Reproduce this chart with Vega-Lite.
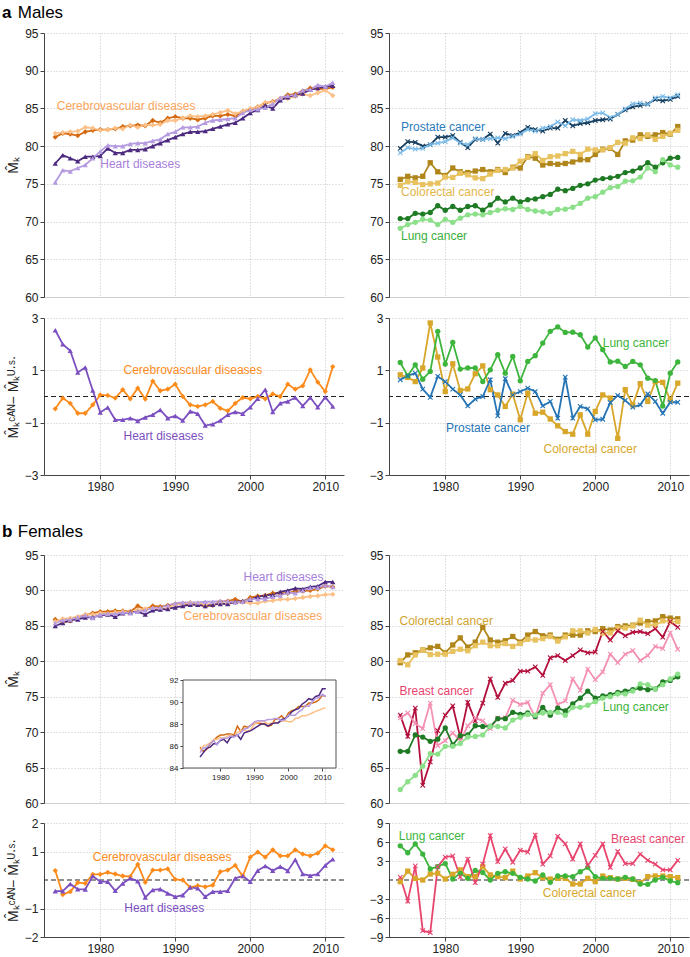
{
"$schema":"https://vega.github.io/schema/vega-lite/v6.json",
"padding":{"left":2,"top":4,"right":0,"bottom":0},
"background":"white",
"config":{
 "font":"Liberation Sans",
 "view":{"stroke":null},
 "axis":{"labelFont":"Liberation Sans","labelFontSize":12,"labelColor":"#222","labelOverlap":false,"tickCount":20,"domainColor":"#444","tickColor":"#444","tickSize":4,"gridColor":"#c4c4c4","gridDash":[1,2],"titleFont":"Liberation Sans","titleFontSize":14,"titleFontWeight":"normal","titleColor":"#222","titlePadding":4,"labelPadding":2},
 "text":{"font":"Liberation Sans"}
},
"datasets":{
"mTL":[
{"t":1974,"k":"cC","v":81.2},{"t":1975,"k":"cC","v":81.7},{"t":1976,"k":"cC","v":81.6},{"t":1977,"k":"cC","v":81.4},{"t":1978,"k":"cC","v":81.9},{"t":1979,"k":"cC","v":82.1},{"t":1980,"k":"cC","v":82.2},{"t":1981,"k":"cC","v":82.2},{"t":1982,"k":"cC","v":82.3},{"t":1983,"k":"cC","v":82.6},{"t":1984,"k":"cC","v":82.7},{"t":1985,"k":"cC","v":82.8},{"t":1986,"k":"cC","v":82.7},{"t":1987,"k":"cC","v":83.4},{"t":1988,"k":"cC","v":83.1},{"t":1989,"k":"cC","v":83.7},{"t":1990,"k":"cC","v":83.9},{"t":1991,"k":"cC","v":83.7},{"t":1992,"k":"cC","v":83.7},{"t":1993,"k":"cC","v":83.5},{"t":1994,"k":"cC","v":83.7},{"t":1995,"k":"cC","v":84.0},{"t":1996,"k":"cC","v":84.0},{"t":1997,"k":"cC","v":84.2},{"t":1998,"k":"cC","v":84.0},{"t":1999,"k":"cC","v":84.6},{"t":2000,"k":"cC","v":84.9},{"t":2001,"k":"cC","v":85.2},{"t":2002,"k":"cC","v":85.7},{"t":2003,"k":"cC","v":85.9},{"t":2004,"k":"cC","v":86.3},{"t":2005,"k":"cC","v":86.8},{"t":2006,"k":"cC","v":86.9},{"t":2007,"k":"cC","v":87.3},{"t":2008,"k":"cC","v":87.7},{"t":2009,"k":"cC","v":87.6},{"t":2010,"k":"cC","v":87.6},{"t":2011,"k":"cC","v":87.8},
{"t":1974,"k":"cU","v":81.7},{"t":1975,"k":"cU","v":81.8},{"t":1976,"k":"cU","v":81.9},{"t":1977,"k":"cU","v":82.0},{"t":1978,"k":"cU","v":82.5},{"t":1979,"k":"cU","v":82.4},{"t":1980,"k":"cU","v":82.1},{"t":1981,"k":"cU","v":82.2},{"t":1982,"k":"cU","v":82.4},{"t":1983,"k":"cU","v":82.3},{"t":1984,"k":"cU","v":82.8},{"t":1985,"k":"cU","v":82.5},{"t":1986,"k":"cU","v":82.8},{"t":1987,"k":"cU","v":82.8},{"t":1988,"k":"cU","v":82.9},{"t":1989,"k":"cU","v":83.4},{"t":1990,"k":"cU","v":83.4},{"t":1991,"k":"cU","v":83.7},{"t":1992,"k":"cU","v":84.0},{"t":1993,"k":"cU","v":83.9},{"t":1994,"k":"cU","v":84.0},{"t":1995,"k":"cU","v":84.2},{"t":1996,"k":"cU","v":84.45},{"t":1997,"k":"cU","v":84.75},{"t":1998,"k":"cU","v":84.3},{"t":1999,"k":"cU","v":84.6},{"t":2000,"k":"cU","v":85.0},{"t":2001,"k":"cU","v":85.2},{"t":2002,"k":"cU","v":85.8},{"t":2003,"k":"cU","v":85.8},{"t":2004,"k":"cU","v":86.3},{"t":2005,"k":"cU","v":86.3},{"t":2006,"k":"cU","v":86.6},{"t":2007,"k":"cU","v":86.9},{"t":2008,"k":"cU","v":86.7},{"t":2009,"k":"cU","v":87.05},{"t":2010,"k":"cU","v":87.4},{"t":2011,"k":"cU","v":86.7},
{"t":1974,"k":"hC","v":77.7},{"t":1975,"k":"hC","v":78.8},{"t":1976,"k":"hC","v":78.4},{"t":1977,"k":"hC","v":78.0},{"t":1978,"k":"hC","v":78.6},{"t":1979,"k":"hC","v":78.6},{"t":1980,"k":"hC","v":78.7},{"t":1981,"k":"hC","v":79.7},{"t":1982,"k":"hC","v":79.1},{"t":1983,"k":"hC","v":79.1},{"t":1984,"k":"hC","v":79.5},{"t":1985,"k":"hC","v":79.5},{"t":1986,"k":"hC","v":79.6},{"t":1987,"k":"hC","v":80.0},{"t":1988,"k":"hC","v":80.4},{"t":1989,"k":"hC","v":80.8},{"t":1990,"k":"hC","v":81.2},{"t":1991,"k":"hC","v":81.6},{"t":1992,"k":"hC","v":81.9},{"t":1993,"k":"hC","v":81.9},{"t":1994,"k":"hC","v":82.0},{"t":1995,"k":"hC","v":82.3},{"t":1996,"k":"hC","v":82.6},{"t":1997,"k":"hC","v":82.9},{"t":1998,"k":"hC","v":83.1},{"t":1999,"k":"hC","v":83.7},{"t":2000,"k":"hC","v":84.4},{"t":2001,"k":"hC","v":84.8},{"t":2002,"k":"hC","v":85.4},{"t":2003,"k":"hC","v":85.0},{"t":2004,"k":"hC","v":86.1},{"t":2005,"k":"hC","v":86.5},{"t":2006,"k":"hC","v":86.8},{"t":2007,"k":"hC","v":87.0},{"t":2008,"k":"hC","v":87.5},{"t":2009,"k":"hC","v":87.7},{"t":2010,"k":"hC","v":87.9},{"t":2011,"k":"hC","v":88.0},
{"t":1974,"k":"hU","v":75.2},{"t":1975,"k":"hU","v":76.8},{"t":1976,"k":"hU","v":76.65},{"t":1977,"k":"hU","v":77.1},{"t":1978,"k":"hU","v":77.5},{"t":1979,"k":"hU","v":78.4},{"t":1980,"k":"hU","v":79.3},{"t":1981,"k":"hU","v":80.1},{"t":1982,"k":"hU","v":80.0},{"t":1983,"k":"hU","v":80.0},{"t":1984,"k":"hU","v":80.3},{"t":1985,"k":"hU","v":80.4},{"t":1986,"k":"hU","v":80.4},{"t":1987,"k":"hU","v":80.7},{"t":1988,"k":"hU","v":80.9},{"t":1989,"k":"hU","v":81.6},{"t":1990,"k":"hU","v":81.9},{"t":1991,"k":"hU","v":82.5},{"t":1992,"k":"hU","v":82.5},{"t":1993,"k":"hU","v":82.6},{"t":1994,"k":"hU","v":83.1},{"t":1995,"k":"hU","v":83.4},{"t":1996,"k":"hU","v":83.5},{"t":1997,"k":"hU","v":83.6},{"t":1998,"k":"hU","v":83.7},{"t":1999,"k":"hU","v":84.4},{"t":2000,"k":"hU","v":84.8},{"t":2001,"k":"hU","v":84.9},{"t":2002,"k":"hU","v":85.1},{"t":2003,"k":"hU","v":85.6},{"t":2004,"k":"hU","v":86.4},{"t":2005,"k":"hU","v":86.7},{"t":2006,"k":"hU","v":86.8},{"t":2007,"k":"hU","v":87.4},{"t":2008,"k":"hU","v":87.5},{"t":2009,"k":"hU","v":88.1},{"t":2010,"k":"hU","v":87.9},{"t":2011,"k":"hU","v":88.4}
],
"mTR":[
{"t":1974,"k":"pC","v":79.7},{"t":1975,"k":"pC","v":80.6},{"t":1976,"k":"pC","v":80.5},{"t":1977,"k":"pC","v":80.0},{"t":1978,"k":"pC","v":80.2},{"t":1979,"k":"pC","v":81.2},{"t":1980,"k":"pC","v":81.2},{"t":1981,"k":"pC","v":81.4},{"t":1982,"k":"pC","v":80.5},{"t":1983,"k":"pC","v":79.8},{"t":1984,"k":"pC","v":80.9},{"t":1985,"k":"pC","v":80.9},{"t":1986,"k":"pC","v":81.6},{"t":1987,"k":"pC","v":80.4},{"t":1988,"k":"pC","v":81.7},{"t":1989,"k":"pC","v":81.4},{"t":1990,"k":"pC","v":81.8},{"t":1991,"k":"pC","v":82.5},{"t":1992,"k":"pC","v":82.2},{"t":1993,"k":"pC","v":82.0},{"t":1994,"k":"pC","v":82.4},{"t":1995,"k":"pC","v":82.4},{"t":1996,"k":"pC","v":83.4},{"t":1997,"k":"pC","v":82.7},{"t":1998,"k":"pC","v":83.0},{"t":1999,"k":"pC","v":83.1},{"t":2000,"k":"pC","v":83.4},{"t":2001,"k":"pC","v":83.5},{"t":2002,"k":"pC","v":83.6},{"t":2003,"k":"pC","v":84.2},{"t":2004,"k":"pC","v":84.8},{"t":2005,"k":"pC","v":85.2},{"t":2006,"k":"pC","v":85.4},{"t":2007,"k":"pC","v":85.6},{"t":2008,"k":"pC","v":86.2},{"t":2009,"k":"pC","v":86.0},{"t":2010,"k":"pC","v":86.2},{"t":2011,"k":"pC","v":86.6},
{"t":1974,"k":"pU","v":79.1},{"t":1975,"k":"pU","v":79.8},{"t":1976,"k":"pU","v":79.6},{"t":1977,"k":"pU","v":79.7},{"t":1978,"k":"pU","v":80.2},{"t":1979,"k":"pU","v":80.4},{"t":1980,"k":"pU","v":80.6},{"t":1981,"k":"pU","v":81.1},{"t":1982,"k":"pU","v":80.4},{"t":1983,"k":"pU","v":80.2},{"t":1984,"k":"pU","v":81.0},{"t":1985,"k":"pU","v":80.9},{"t":1986,"k":"pU","v":81.0},{"t":1987,"k":"pU","v":81.1},{"t":1988,"k":"pU","v":81.0},{"t":1989,"k":"pU","v":81.3},{"t":1990,"k":"pU","v":81.6},{"t":1991,"k":"pU","v":82.2},{"t":1992,"k":"pU","v":82.0},{"t":1993,"k":"pU","v":82.4},{"t":1994,"k":"pU","v":82.6},{"t":1995,"k":"pU","v":83.2},{"t":1996,"k":"pU","v":82.7},{"t":1997,"k":"pU","v":83.5},{"t":1998,"k":"pU","v":83.4},{"t":1999,"k":"pU","v":83.6},{"t":2000,"k":"pU","v":84.3},{"t":2001,"k":"pU","v":84.4},{"t":2002,"k":"pU","v":83.8},{"t":2003,"k":"pU","v":84.2},{"t":2004,"k":"pU","v":84.95},{"t":2005,"k":"pU","v":85.6},{"t":2006,"k":"pU","v":85.7},{"t":2007,"k":"pU","v":85.5},{"t":2008,"k":"pU","v":86.4},{"t":2009,"k":"pU","v":86.6},{"t":2010,"k":"pU","v":86.4},{"t":2011,"k":"pU","v":86.8},
{"t":1974,"k":"oC","v":75.6},{"t":1975,"k":"oC","v":76.0},{"t":1976,"k":"oC","v":75.8},{"t":1977,"k":"oC","v":76.0},{"t":1978,"k":"oC","v":77.8},{"t":1979,"k":"oC","v":76.6},{"t":1980,"k":"oC","v":76.1},{"t":1981,"k":"oC","v":77.1},{"t":1982,"k":"oC","v":76.6},{"t":1983,"k":"oC","v":76.5},{"t":1984,"k":"oC","v":76.7},{"t":1985,"k":"oC","v":76.9},{"t":1986,"k":"oC","v":76.6},{"t":1987,"k":"oC","v":76.9},{"t":1988,"k":"oC","v":76.5},{"t":1989,"k":"oC","v":77.2},{"t":1990,"k":"oC","v":77.1},{"t":1991,"k":"oC","v":78.6},{"t":1992,"k":"oC","v":78.4},{"t":1993,"k":"oC","v":77.5},{"t":1994,"k":"oC","v":77.7},{"t":1995,"k":"oC","v":77.6},{"t":1996,"k":"oC","v":77.7},{"t":1997,"k":"oC","v":77.9},{"t":1998,"k":"oC","v":78.2},{"t":1999,"k":"oC","v":78.2},{"t":2000,"k":"oC","v":78.9},{"t":2001,"k":"oC","v":79.6},{"t":2002,"k":"oC","v":79.7},{"t":2003,"k":"oC","v":78.9},{"t":2004,"k":"oC","v":80.7},{"t":2005,"k":"oC","v":80.8},{"t":2006,"k":"oC","v":81.5},{"t":2007,"k":"oC","v":81.3},{"t":2008,"k":"oC","v":81.5},{"t":2009,"k":"oC","v":81.8},{"t":2010,"k":"oC","v":81.6},{"t":2011,"k":"oC","v":82.6},
{"t":1974,"k":"oU","v":74.8},{"t":1975,"k":"oU","v":75.3},{"t":1976,"k":"oU","v":75.2},{"t":1977,"k":"oU","v":74.9},{"t":1978,"k":"oU","v":75.0},{"t":1979,"k":"oU","v":75.1},{"t":1980,"k":"oU","v":75.9},{"t":1981,"k":"oU","v":75.85},{"t":1982,"k":"oU","v":76.4},{"t":1983,"k":"oU","v":76.2},{"t":1984,"k":"oU","v":75.8},{"t":1985,"k":"oU","v":75.7},{"t":1986,"k":"oU","v":76.3},{"t":1987,"k":"oU","v":76.8},{"t":1988,"k":"oU","v":76.9},{"t":1989,"k":"oU","v":77.1},{"t":1990,"k":"oU","v":78.0},{"t":1991,"k":"oU","v":78.5},{"t":1992,"k":"oU","v":79.0},{"t":1993,"k":"oU","v":78.1},{"t":1994,"k":"oU","v":78.6},{"t":1995,"k":"oU","v":78.7},{"t":1996,"k":"oU","v":79.0},{"t":1997,"k":"oU","v":79.3},{"t":1998,"k":"oU","v":78.9},{"t":1999,"k":"oU","v":79.6},{"t":2000,"k":"oU","v":79.5},{"t":2001,"k":"oU","v":79.5},{"t":2002,"k":"oU","v":79.8},{"t":2003,"k":"oU","v":80.5},{"t":2004,"k":"oU","v":80.4},{"t":2005,"k":"oU","v":81.1},{"t":2006,"k":"oU","v":81.0},{"t":2007,"k":"oU","v":81.5},{"t":2008,"k":"oU","v":80.9},{"t":2009,"k":"oU","v":81.3},{"t":2010,"k":"oU","v":81.7},{"t":2011,"k":"oU","v":82.1},
{"t":1974,"k":"lC","v":70.4},{"t":1975,"k":"lC","v":70.4},{"t":1976,"k":"lC","v":71.1},{"t":1977,"k":"lC","v":71.0},{"t":1978,"k":"lC","v":71.2},{"t":1979,"k":"lC","v":72.1},{"t":1980,"k":"lC","v":71.5},{"t":1981,"k":"lC","v":72.0},{"t":1982,"k":"lC","v":71.5},{"t":1983,"k":"lC","v":72.0},{"t":1984,"k":"lC","v":72.1},{"t":1985,"k":"lC","v":71.5},{"t":1986,"k":"lC","v":72.2},{"t":1987,"k":"lC","v":73.1},{"t":1988,"k":"lC","v":72.6},{"t":1989,"k":"lC","v":73.1},{"t":1990,"k":"lC","v":72.6},{"t":1991,"k":"lC","v":72.9},{"t":1992,"k":"lC","v":73.0},{"t":1993,"k":"lC","v":73.3},{"t":1994,"k":"lC","v":73.6},{"t":1995,"k":"lC","v":74.3},{"t":1996,"k":"lC","v":74.1},{"t":1997,"k":"lC","v":74.4},{"t":1998,"k":"lC","v":74.8},{"t":1999,"k":"lC","v":75.0},{"t":2000,"k":"lC","v":75.5},{"t":2001,"k":"lC","v":75.7},{"t":2002,"k":"lC","v":75.8},{"t":2003,"k":"lC","v":76.0},{"t":2004,"k":"lC","v":76.5},{"t":2005,"k":"lC","v":76.7},{"t":2006,"k":"lC","v":77.1},{"t":2007,"k":"lC","v":77.8},{"t":2008,"k":"lC","v":77.2},{"t":2009,"k":"lC","v":77.8},{"t":2010,"k":"lC","v":78.4},{"t":2011,"k":"lC","v":78.5},
{"t":1974,"k":"lU","v":69.1},{"t":1975,"k":"lU","v":69.6},{"t":1976,"k":"lU","v":69.9},{"t":1977,"k":"lU","v":70.3},{"t":1978,"k":"lU","v":70.2},{"t":1979,"k":"lU","v":69.6},{"t":1980,"k":"lU","v":70.3},{"t":1981,"k":"lU","v":69.9},{"t":1982,"k":"lU","v":70.45},{"t":1983,"k":"lU","v":70.9},{"t":1984,"k":"lU","v":71.0},{"t":1985,"k":"lU","v":70.9},{"t":1986,"k":"lU","v":71.2},{"t":1987,"k":"lU","v":71.5},{"t":1988,"k":"lU","v":71.7},{"t":1989,"k":"lU","v":71.6},{"t":1990,"k":"lU","v":72.0},{"t":1991,"k":"lU","v":71.6},{"t":1992,"k":"lU","v":71.4},{"t":1993,"k":"lU","v":71.3},{"t":1994,"k":"lU","v":71.1},{"t":1995,"k":"lU","v":71.6},{"t":1996,"k":"lU","v":71.65},{"t":1997,"k":"lU","v":71.9},{"t":1998,"k":"lU","v":72.4},{"t":1999,"k":"lU","v":73.1},{"t":2000,"k":"lU","v":73.3},{"t":2001,"k":"lU","v":73.9},{"t":2002,"k":"lU","v":74.5},{"t":2003,"k":"lU","v":74.65},{"t":2004,"k":"lU","v":75.35},{"t":2005,"k":"lU","v":75.4},{"t":2006,"k":"lU","v":75.9},{"t":2007,"k":"lU","v":77.1},{"t":2008,"k":"lU","v":76.6},{"t":2009,"k":"lU","v":78.2},{"t":2010,"k":"lU","v":77.5},{"t":2011,"k":"lU","v":77.2}
],
"mBL":[
{"t":1974,"k":"cD","v":-0.47},{"t":1975,"k":"cD","v":-0.06},{"t":1976,"k":"cD","v":-0.26},{"t":1977,"k":"cD","v":-0.64},{"t":1978,"k":"cD","v":-0.64},{"t":1979,"k":"cD","v":-0.32},{"t":1980,"k":"cD","v":0.06},{"t":1981,"k":"cD","v":0.04},{"t":1982,"k":"cD","v":-0.06},{"t":1983,"k":"cD","v":0.26},{"t":1984,"k":"cD","v":-0.09},{"t":1985,"k":"cD","v":0.32},{"t":1986,"k":"cD","v":-0.10},{"t":1987,"k":"cD","v":0.59},{"t":1988,"k":"cD","v":0.22},{"t":1989,"k":"cD","v":0.28},{"t":1990,"k":"cD","v":0.47},{"t":1991,"k":"cD","v":0.0},{"t":1992,"k":"cD","v":-0.32},{"t":1993,"k":"cD","v":-0.38},{"t":1994,"k":"cD","v":-0.32},{"t":1995,"k":"cD","v":-0.19},{"t":1996,"k":"cD","v":-0.45},{"t":1997,"k":"cD","v":-0.55},{"t":1998,"k":"cD","v":-0.26},{"t":1999,"k":"cD","v":-0.04},{"t":2000,"k":"cD","v":-0.09},{"t":2001,"k":"cD","v":0.0},{"t":2002,"k":"cD","v":-0.09},{"t":2003,"k":"cD","v":0.10},{"t":2004,"k":"cD","v":0.0},{"t":2005,"k":"cD","v":0.47},{"t":2006,"k":"cD","v":0.28},{"t":2007,"k":"cD","v":0.41},{"t":2008,"k":"cD","v":1.02},{"t":2009,"k":"cD","v":0.55},{"t":2010,"k":"cD","v":0.19},{"t":2011,"k":"cD","v":1.14},
{"t":1974,"k":"hD","v":2.53},{"t":1975,"k":"hD","v":2.0},{"t":1976,"k":"hD","v":1.75},{"t":1977,"k":"hD","v":0.92},{"t":1978,"k":"hD","v":1.11},{"t":1979,"k":"hD","v":0.23},{"t":1980,"k":"hD","v":-0.61},{"t":1981,"k":"hD","v":-0.42},{"t":1982,"k":"hD","v":-0.89},{"t":1983,"k":"hD","v":-0.89},{"t":1984,"k":"hD","v":-0.83},{"t":1985,"k":"hD","v":-0.93},{"t":1986,"k":"hD","v":-0.80},{"t":1987,"k":"hD","v":-0.70},{"t":1988,"k":"hD","v":-0.51},{"t":1989,"k":"hD","v":-0.83},{"t":1990,"k":"hD","v":-0.74},{"t":1991,"k":"hD","v":-0.92},{"t":1992,"k":"hD","v":-0.57},{"t":1993,"k":"hD","v":-0.66},{"t":1994,"k":"hD","v":-1.11},{"t":1995,"k":"hD","v":-1.06},{"t":1996,"k":"hD","v":-0.92},{"t":1997,"k":"hD","v":-0.70},{"t":1998,"k":"hD","v":-0.59},{"t":1999,"k":"hD","v":-0.66},{"t":2000,"k":"hD","v":-0.41},{"t":2001,"k":"hD","v":-0.08},{"t":2002,"k":"hD","v":0.26},{"t":2003,"k":"hD","v":-0.59},{"t":2004,"k":"hD","v":-0.26},{"t":2005,"k":"hD","v":-0.19},{"t":2006,"k":"hD","v":-0.04},{"t":2007,"k":"hD","v":-0.36},{"t":2008,"k":"hD","v":-0.04},{"t":2009,"k":"hD","v":-0.41},{"t":2010,"k":"hD","v":-0.03},{"t":2011,"k":"hD","v":-0.38}
],
"mBR":[
{"t":1974,"k":"oD","v":0.83},{"t":1975,"k":"oD","v":0.73},{"t":1976,"k":"oD","v":0.57},{"t":1977,"k":"oD","v":1.09},{"t":1978,"k":"oD","v":2.81},{"t":1979,"k":"oD","v":1.51},{"t":1980,"k":"oD","v":0.19},{"t":1981,"k":"oD","v":1.25},{"t":1982,"k":"oD","v":0.23},{"t":1983,"k":"oD","v":0.29},{"t":1984,"k":"oD","v":0.87},{"t":1985,"k":"oD","v":1.17},{"t":1986,"k":"oD","v":0.26},{"t":1987,"k":"oD","v":0.06},{"t":1988,"k":"oD","v":-0.38},{"t":1989,"k":"oD","v":0.09},{"t":1990,"k":"oD","v":-0.89},{"t":1991,"k":"oD","v":0.13},{"t":1992,"k":"oD","v":-0.64},{"t":1993,"k":"oD","v":-0.60},{"t":1994,"k":"oD","v":-0.86},{"t":1995,"k":"oD","v":-1.12},{"t":1996,"k":"oD","v":-1.34},{"t":1997,"k":"oD","v":-1.44},{"t":1998,"k":"oD","v":-0.70},{"t":1999,"k":"oD","v":-1.44},{"t":2000,"k":"oD","v":-0.57},{"t":2001,"k":"oD","v":0.06},{"t":2002,"k":"oD","v":-0.06},{"t":2003,"k":"oD","v":-1.60},{"t":2004,"k":"oD","v":0.26},{"t":2005,"k":"oD","v":-0.32},{"t":2006,"k":"oD","v":0.49},{"t":2007,"k":"oD","v":-0.19},{"t":2008,"k":"oD","v":0.57},{"t":2009,"k":"oD","v":0.54},{"t":2010,"k":"oD","v":-0.13},{"t":2011,"k":"oD","v":0.51},
{"t":1974,"k":"lD","v":1.30},{"t":1975,"k":"lD","v":0.79},{"t":1976,"k":"lD","v":1.21},{"t":1977,"k":"lD","v":0.66},{"t":1978,"k":"lD","v":0.96},{"t":1979,"k":"lD","v":2.49},{"t":1980,"k":"lD","v":1.24},{"t":1981,"k":"lD","v":2.07},{"t":1982,"k":"lD","v":1.05},{"t":1983,"k":"lD","v":1.09},{"t":1984,"k":"lD","v":1.09},{"t":1985,"k":"lD","v":0.57},{"t":1986,"k":"lD","v":1.02},{"t":1987,"k":"lD","v":1.60},{"t":1988,"k":"lD","v":0.89},{"t":1989,"k":"lD","v":1.53},{"t":1990,"k":"lD","v":0.60},{"t":1991,"k":"lD","v":1.34},{"t":1992,"k":"lD","v":1.56},{"t":1993,"k":"lD","v":2.04},{"t":1994,"k":"lD","v":2.49},{"t":1995,"k":"lD","v":2.66},{"t":1996,"k":"lD","v":2.45},{"t":1997,"k":"lD","v":2.46},{"t":1998,"k":"lD","v":2.36},{"t":1999,"k":"lD","v":1.89},{"t":2000,"k":"lD","v":2.24},{"t":2001,"k":"lD","v":1.79},{"t":2002,"k":"lD","v":1.32},{"t":2003,"k":"lD","v":1.35},{"t":2004,"k":"lD","v":1.15},{"t":2005,"k":"lD","v":1.34},{"t":2006,"k":"lD","v":1.21},{"t":2007,"k":"lD","v":0.70},{"t":2008,"k":"lD","v":0.61},{"t":2009,"k":"lD","v":-0.36},{"t":2010,"k":"lD","v":0.89},{"t":2011,"k":"lD","v":1.32},
{"t":1974,"k":"pD","v":0.64},{"t":1975,"k":"pD","v":0.79},{"t":1976,"k":"pD","v":0.89},{"t":1977,"k":"pD","v":0.28},{"t":1978,"k":"pD","v":-0.03},{"t":1979,"k":"pD","v":0.77},{"t":1980,"k":"pD","v":0.57},{"t":1981,"k":"pD","v":0.28},{"t":1982,"k":"pD","v":0.06},{"t":1983,"k":"pD","v":-0.36},{"t":1984,"k":"pD","v":-0.10},{"t":1985,"k":"pD","v":0.0},{"t":1986,"k":"pD","v":0.64},{"t":1987,"k":"pD","v":-0.74},{"t":1988,"k":"pD","v":0.68},{"t":1989,"k":"pD","v":0.06},{"t":1990,"k":"pD","v":0.19},{"t":1991,"k":"pD","v":0.32},{"t":1992,"k":"pD","v":0.19},{"t":1993,"k":"pD","v":-0.36},{"t":1994,"k":"pD","v":-0.19},{"t":1995,"k":"pD","v":-0.83},{"t":1996,"k":"pD","v":0.74},{"t":1997,"k":"pD","v":-0.83},{"t":1998,"k":"pD","v":-0.38},{"t":1999,"k":"pD","v":-0.47},{"t":2000,"k":"pD","v":-0.89},{"t":2001,"k":"pD","v":-0.87},{"t":2002,"k":"pD","v":-0.23},{"t":2003,"k":"pD","v":0.04},{"t":2004,"k":"pD","v":-0.15},{"t":2005,"k":"pD","v":-0.41},{"t":2006,"k":"pD","v":-0.32},{"t":2007,"k":"pD","v":0.10},{"t":2008,"k":"pD","v":-0.19},{"t":2009,"k":"pD","v":-0.64},{"t":2010,"k":"pD","v":-0.22},{"t":2011,"k":"pD","v":-0.22}
],
"fTL":[
{"t":1974,"k":"cC","v":85.9},{"t":1975,"k":"cC","v":85.5},{"t":1976,"k":"cC","v":85.7},{"t":1977,"k":"cC","v":86.2},{"t":1978,"k":"cC","v":86.5},{"t":1979,"k":"cC","v":86.8},{"t":1980,"k":"cC","v":87.0},{"t":1981,"k":"cC","v":87.0},{"t":1982,"k":"cC","v":87.1},{"t":1983,"k":"cC","v":87.1},{"t":1984,"k":"cC","v":87.0},{"t":1985,"k":"cC","v":87.8},{"t":1986,"k":"cC","v":87.3},{"t":1987,"k":"cC","v":87.8},{"t":1988,"k":"cC","v":87.7},{"t":1989,"k":"cC","v":87.9},{"t":1990,"k":"cC","v":88.05},{"t":1991,"k":"cC","v":88.1},{"t":1992,"k":"cC","v":88.05},{"t":1993,"k":"cC","v":88.0},{"t":1994,"k":"cC","v":87.8},{"t":1995,"k":"cC","v":87.9},{"t":1996,"k":"cC","v":88.4},{"t":1997,"k":"cC","v":88.5},{"t":1998,"k":"cC","v":88.75},{"t":1999,"k":"cC","v":88.4},{"t":2000,"k":"cC","v":89.0},{"t":2001,"k":"cC","v":89.2},{"t":2002,"k":"cC","v":89.3},{"t":2003,"k":"cC","v":89.6},{"t":2004,"k":"cC","v":89.6},{"t":2005,"k":"cC","v":89.6},{"t":2006,"k":"cC","v":89.9},{"t":2007,"k":"cC","v":89.9},{"t":2008,"k":"cC","v":90.0},{"t":2009,"k":"cC","v":90.2},{"t":2010,"k":"cC","v":90.6},{"t":2011,"k":"cC","v":90.5},
{"t":1974,"k":"cU","v":85.6},{"t":1975,"k":"cU","v":86.0},{"t":1976,"k":"cU","v":86.1},{"t":1977,"k":"cU","v":86.3},{"t":1978,"k":"cU","v":86.6},{"t":1979,"k":"cU","v":86.6},{"t":1980,"k":"cU","v":86.8},{"t":1981,"k":"cU","v":86.7},{"t":1982,"k":"cU","v":86.9},{"t":1983,"k":"cU","v":87.0},{"t":1984,"k":"cU","v":86.9},{"t":1985,"k":"cU","v":87.25},{"t":1986,"k":"cU","v":87.4},{"t":1987,"k":"cU","v":87.45},{"t":1988,"k":"cU","v":87.35},{"t":1989,"k":"cU","v":87.5},{"t":1990,"k":"cU","v":88.0},{"t":1991,"k":"cU","v":88.1},{"t":1992,"k":"cU","v":88.3},{"t":1993,"k":"cU","v":88.2},{"t":1994,"k":"cU","v":88.0},{"t":1995,"k":"cU","v":88.1},{"t":1996,"k":"cU","v":88.1},{"t":1997,"k":"cU","v":88.15},{"t":1998,"k":"cU","v":88.25},{"t":1999,"k":"cU","v":88.3},{"t":2000,"k":"cU","v":88.2},{"t":2001,"k":"cU","v":88.2},{"t":2002,"k":"cU","v":88.5},{"t":2003,"k":"cU","v":88.55},{"t":2004,"k":"cU","v":88.75},{"t":2005,"k":"cU","v":88.75},{"t":2006,"k":"cU","v":88.85},{"t":2007,"k":"cU","v":89.0},{"t":2008,"k":"cU","v":89.15},{"t":2009,"k":"cU","v":89.25},{"t":2010,"k":"cU","v":89.4},{"t":2011,"k":"cU","v":89.45},
{"t":1974,"k":"hC","v":85.0},{"t":1975,"k":"hC","v":85.4},{"t":1976,"k":"hC","v":85.8},{"t":1977,"k":"hC","v":85.9},{"t":1978,"k":"hC","v":86.2},{"t":1979,"k":"hC","v":86.2},{"t":1980,"k":"hC","v":86.5},{"t":1981,"k":"hC","v":86.6},{"t":1982,"k":"hC","v":86.3},{"t":1983,"k":"hC","v":86.8},{"t":1984,"k":"hC","v":86.9},{"t":1985,"k":"hC","v":87.0},{"t":1986,"k":"hC","v":86.6},{"t":1987,"k":"hC","v":87.2},{"t":1988,"k":"hC","v":87.3},{"t":1989,"k":"hC","v":87.4},{"t":1990,"k":"hC","v":87.6},{"t":1991,"k":"hC","v":87.8},{"t":1992,"k":"hC","v":88.0},{"t":1993,"k":"hC","v":88.0},{"t":1994,"k":"hC","v":87.8},{"t":1995,"k":"hC","v":88.0},{"t":1996,"k":"hC","v":88.1},{"t":1997,"k":"hC","v":88.1},{"t":1998,"k":"hC","v":88.4},{"t":1999,"k":"hC","v":88.5},{"t":2000,"k":"hC","v":88.7},{"t":2001,"k":"hC","v":89.1},{"t":2002,"k":"hC","v":89.3},{"t":2003,"k":"hC","v":89.4},{"t":2004,"k":"hC","v":89.8},{"t":2005,"k":"hC","v":90.0},{"t":2006,"k":"hC","v":90.3},{"t":2007,"k":"hC","v":90.2},{"t":2008,"k":"hC","v":90.5},{"t":2009,"k":"hC","v":90.6},{"t":2010,"k":"hC","v":91.2},{"t":2011,"k":"hC","v":91.2},
{"t":1974,"k":"hU","v":85.4},{"t":1975,"k":"hU","v":85.8},{"t":1976,"k":"hU","v":85.9},{"t":1977,"k":"hU","v":86.2},{"t":1978,"k":"hU","v":86.5},{"t":1979,"k":"hU","v":86.1},{"t":1980,"k":"hU","v":86.6},{"t":1981,"k":"hU","v":86.7},{"t":1982,"k":"hU","v":86.7},{"t":1983,"k":"hU","v":86.9},{"t":1984,"k":"hU","v":86.8},{"t":1985,"k":"hU","v":87.0},{"t":1986,"k":"hU","v":87.2},{"t":1987,"k":"hU","v":87.55},{"t":1988,"k":"hU","v":87.6},{"t":1989,"k":"hU","v":87.9},{"t":1990,"k":"hU","v":88.2},{"t":1991,"k":"hU","v":88.3},{"t":1992,"k":"hU","v":88.3},{"t":1993,"k":"hU","v":88.3},{"t":1994,"k":"hU","v":88.4},{"t":1995,"k":"hU","v":88.4},{"t":1996,"k":"hU","v":88.5},{"t":1997,"k":"hU","v":88.5},{"t":1998,"k":"hU","v":88.3},{"t":1999,"k":"hU","v":88.4},{"t":2000,"k":"hU","v":88.8},{"t":2001,"k":"hU","v":88.8},{"t":2002,"k":"hU","v":88.8},{"t":2003,"k":"hU","v":89.1},{"t":2004,"k":"hU","v":89.3},{"t":2005,"k":"hU","v":89.7},{"t":2006,"k":"hU","v":89.6},{"t":2007,"k":"hU","v":90.0},{"t":2008,"k":"hU","v":90.35},{"t":2009,"k":"hU","v":90.4},{"t":2010,"k":"hU","v":90.7},{"t":2011,"k":"hU","v":90.5}
],
"fTR":[
{"t":1974,"k":"oC","v":79.8},{"t":1975,"k":"oC","v":80.9},{"t":1976,"k":"oC","v":81.2},{"t":1977,"k":"oC","v":81.6},{"t":1978,"k":"oC","v":81.9},{"t":1979,"k":"oC","v":82.1},{"t":1980,"k":"oC","v":81.2},{"t":1981,"k":"oC","v":82.3},{"t":1982,"k":"oC","v":83.3},{"t":1983,"k":"oC","v":82.0},{"t":1984,"k":"oC","v":82.7},{"t":1985,"k":"oC","v":84.8},{"t":1986,"k":"oC","v":83.0},{"t":1987,"k":"oC","v":82.7},{"t":1988,"k":"oC","v":82.9},{"t":1989,"k":"oC","v":83.5},{"t":1990,"k":"oC","v":82.7},{"t":1991,"k":"oC","v":83.7},{"t":1992,"k":"oC","v":84.2},{"t":1993,"k":"oC","v":83.6},{"t":1994,"k":"oC","v":83.7},{"t":1995,"k":"oC","v":83.1},{"t":1996,"k":"oC","v":83.7},{"t":1997,"k":"oC","v":83.7},{"t":1998,"k":"oC","v":83.7},{"t":1999,"k":"oC","v":84.3},{"t":2000,"k":"oC","v":84.2},{"t":2001,"k":"oC","v":84.6},{"t":2002,"k":"oC","v":84.4},{"t":2003,"k":"oC","v":84.9},{"t":2004,"k":"oC","v":85.0},{"t":2005,"k":"oC","v":85.1},{"t":2006,"k":"oC","v":85.4},{"t":2007,"k":"oC","v":85.6},{"t":2008,"k":"oC","v":85.7},{"t":2009,"k":"oC","v":86.3},{"t":2010,"k":"oC","v":86.1},{"t":2011,"k":"oC","v":86.0},
{"t":1974,"k":"oU","v":80.1},{"t":1975,"k":"oU","v":79.5},{"t":1976,"k":"oU","v":80.9},{"t":1977,"k":"oU","v":81.6},{"t":1978,"k":"oU","v":80.95},{"t":1979,"k":"oU","v":81.0},{"t":1980,"k":"oU","v":81.0},{"t":1981,"k":"oU","v":81.4},{"t":1982,"k":"oU","v":81.7},{"t":1983,"k":"oU","v":81.5},{"t":1984,"k":"oU","v":82.2},{"t":1985,"k":"oU","v":82.7},{"t":1986,"k":"oU","v":82.2},{"t":1987,"k":"oU","v":82.2},{"t":1988,"k":"oU","v":82.5},{"t":1989,"k":"oU","v":82.1},{"t":1990,"k":"oU","v":82.5},{"t":1991,"k":"oU","v":83.1},{"t":1992,"k":"oU","v":83.0},{"t":1993,"k":"oU","v":83.2},{"t":1994,"k":"oU","v":83.5},{"t":1995,"k":"oU","v":82.85},{"t":1996,"k":"oU","v":83.45},{"t":1997,"k":"oU","v":84.3},{"t":1998,"k":"oU","v":84.3},{"t":1999,"k":"oU","v":84.0},{"t":2000,"k":"oU","v":84.5},{"t":2001,"k":"oU","v":84.0},{"t":2002,"k":"oU","v":84.0},{"t":2003,"k":"oU","v":84.7},{"t":2004,"k":"oU","v":84.7},{"t":2005,"k":"oU","v":85.0},{"t":2006,"k":"oU","v":85.8},{"t":2007,"k":"oU","v":85.1},{"t":2008,"k":"oU","v":85.1},{"t":2009,"k":"oU","v":85.7},{"t":2010,"k":"oU","v":85.6},{"t":2011,"k":"oU","v":85.6},
{"t":1974,"k":"bC","v":72.4},{"t":1975,"k":"bC","v":69.4},{"t":1976,"k":"bC","v":73.4},{"t":1977,"k":"bC","v":62.5},{"t":1978,"k":"bC","v":65.8},{"t":1979,"k":"bC","v":70.2},{"t":1980,"k":"bC","v":72.4},{"t":1981,"k":"bC","v":73.7},{"t":1982,"k":"bC","v":69.3},{"t":1983,"k":"bC","v":74.2},{"t":1984,"k":"bC","v":71.6},{"t":1985,"k":"bC","v":74.1},{"t":1986,"k":"bC","v":77.5},{"t":1987,"k":"bC","v":74.9},{"t":1988,"k":"bC","v":76.9},{"t":1989,"k":"bC","v":77.3},{"t":1990,"k":"bC","v":78.6},{"t":1991,"k":"bC","v":78.6},{"t":1992,"k":"bC","v":79.2},{"t":1993,"k":"bC","v":78.0},{"t":1994,"k":"bC","v":80.5},{"t":1995,"k":"bC","v":80.8},{"t":1996,"k":"bC","v":80.1},{"t":1997,"k":"bC","v":80.8},{"t":1998,"k":"bC","v":81.6},{"t":1999,"k":"bC","v":81.2},{"t":2000,"k":"bC","v":81.3},{"t":2001,"k":"bC","v":84.2},{"t":2002,"k":"bC","v":83.0},{"t":2003,"k":"bC","v":84.3},{"t":2004,"k":"bC","v":83.6},{"t":2005,"k":"bC","v":84.1},{"t":2006,"k":"bC","v":84.2},{"t":2007,"k":"bC","v":83.9},{"t":2008,"k":"bC","v":84.6},{"t":2009,"k":"bC","v":83.4},{"t":2010,"k":"bC","v":85.6},{"t":2011,"k":"bC","v":84.8},
{"t":1974,"k":"bU","v":72.0},{"t":1975,"k":"bU","v":72.7},{"t":1976,"k":"bU","v":71.2},{"t":1977,"k":"bU","v":70.5},{"t":1978,"k":"bU","v":74.1},{"t":1979,"k":"bU","v":68.1},{"t":1980,"k":"bU","v":68.8},{"t":1981,"k":"bU","v":69.9},{"t":1982,"k":"bU","v":68.8},{"t":1983,"k":"bU","v":70.9},{"t":1984,"k":"bU","v":72.0},{"t":1985,"k":"bU","v":71.6},{"t":1986,"k":"bU","v":70.5},{"t":1987,"k":"bU","v":72.0},{"t":1988,"k":"bU","v":72.0},{"t":1989,"k":"bU","v":74.5},{"t":1990,"k":"bU","v":73.9},{"t":1991,"k":"bU","v":74.2},{"t":1992,"k":"bU","v":72.1},{"t":1993,"k":"bU","v":75.5},{"t":1994,"k":"bU","v":76.7},{"t":1995,"k":"bU","v":73.9},{"t":1996,"k":"bU","v":74.4},{"t":1997,"k":"bU","v":77.5},{"t":1998,"k":"bU","v":75.9},{"t":1999,"k":"bU","v":78.9},{"t":2000,"k":"bU","v":77.4},{"t":2001,"k":"bU","v":78.5},{"t":2002,"k":"bU","v":81.0},{"t":2003,"k":"bU","v":79.8},{"t":2004,"k":"bU","v":81.0},{"t":2005,"k":"bU","v":81.5},{"t":2006,"k":"bU","v":80.1},{"t":2007,"k":"bU","v":80.8},{"t":2008,"k":"bU","v":82.1},{"t":2009,"k":"bU","v":81.8},{"t":2010,"k":"bU","v":84.0},{"t":2011,"k":"bU","v":81.7},
{"t":1974,"k":"lC","v":67.3},{"t":1975,"k":"lC","v":67.3},{"t":1976,"k":"lC","v":69.6},{"t":1977,"k":"lC","v":69.3},{"t":1978,"k":"lC","v":68.7},{"t":1979,"k":"lC","v":69.0},{"t":1980,"k":"lC","v":70.6},{"t":1981,"k":"lC","v":68.2},{"t":1982,"k":"lC","v":69.5},{"t":1983,"k":"lC","v":69.6},{"t":1984,"k":"lC","v":70.9},{"t":1985,"k":"lC","v":70.8},{"t":1986,"k":"lC","v":70.8},{"t":1987,"k":"lC","v":71.9},{"t":1988,"k":"lC","v":71.9},{"t":1989,"k":"lC","v":72.8},{"t":1990,"k":"lC","v":72.5},{"t":1991,"k":"lC","v":72.7},{"t":1992,"k":"lC","v":72.2},{"t":1993,"k":"lC","v":73.5},{"t":1994,"k":"lC","v":72.4},{"t":1995,"k":"lC","v":73.4},{"t":1996,"k":"lC","v":73.0},{"t":1997,"k":"lC","v":74.0},{"t":1998,"k":"lC","v":74.8},{"t":1999,"k":"lC","v":75.8},{"t":2000,"k":"lC","v":74.8},{"t":2001,"k":"lC","v":75.1},{"t":2002,"k":"lC","v":75.3},{"t":2003,"k":"lC","v":75.6},{"t":2004,"k":"lC","v":75.8},{"t":2005,"k":"lC","v":76.0},{"t":2006,"k":"lC","v":76.2},{"t":2007,"k":"lC","v":76.0},{"t":2008,"k":"lC","v":76.1},{"t":2009,"k":"lC","v":77.1},{"t":2010,"k":"lC","v":77.3},{"t":2011,"k":"lC","v":77.8},
{"t":1974,"k":"lU","v":61.9},{"t":1975,"k":"lU","v":63.0},{"t":1976,"k":"lU","v":63.9},{"t":1977,"k":"lU","v":65.2},{"t":1978,"k":"lU","v":66.95},{"t":1979,"k":"lU","v":66.9},{"t":1980,"k":"lU","v":68.0},{"t":1981,"k":"lU","v":68.0},{"t":1982,"k":"lU","v":68.4},{"t":1983,"k":"lU","v":69.3},{"t":1984,"k":"lU","v":69.4},{"t":1985,"k":"lU","v":69.6},{"t":1986,"k":"lU","v":70.8},{"t":1987,"k":"lU","v":70.8},{"t":1988,"k":"lU","v":70.6},{"t":1989,"k":"lU","v":71.7},{"t":1990,"k":"lU","v":72.1},{"t":1991,"k":"lU","v":72.5},{"t":1992,"k":"lU","v":72.4},{"t":1993,"k":"lU","v":72.7},{"t":1994,"k":"lU","v":72.8},{"t":1995,"k":"lU","v":72.8},{"t":1996,"k":"lU","v":72.4},{"t":1997,"k":"lU","v":73.5},{"t":1998,"k":"lU","v":73.5},{"t":1999,"k":"lU","v":73.8},{"t":2000,"k":"lU","v":74.3},{"t":2001,"k":"lU","v":74.8},{"t":2002,"k":"lU","v":75.0},{"t":2003,"k":"lU","v":75.4},{"t":2004,"k":"lU","v":75.4},{"t":2005,"k":"lU","v":75.8},{"t":2006,"k":"lU","v":76.8},{"t":2007,"k":"lU","v":76.7},{"t":2008,"k":"lU","v":76.1},{"t":2009,"k":"lU","v":76.7},{"t":2010,"k":"lU","v":77.5},{"t":2011,"k":"lU","v":78.2}
],
"fBL":[
{"t":1974,"k":"cD","v":0.33},{"t":1975,"k":"cD","v":-0.51},{"t":1976,"k":"cD","v":-0.41},{"t":1977,"k":"cD","v":-0.09},{"t":1978,"k":"cD","v":-0.12},{"t":1979,"k":"cD","v":0.20},{"t":1980,"k":"cD","v":0.20},{"t":1981,"k":"cD","v":0.27},{"t":1982,"k":"cD","v":0.21},{"t":1983,"k":"cD","v":0.14},{"t":1984,"k":"cD","v":0.12},{"t":1985,"k":"cD","v":0.55},{"t":1986,"k":"cD","v":-0.08},{"t":1987,"k":"cD","v":0.35},{"t":1988,"k":"cD","v":0.35},{"t":1989,"k":"cD","v":0.39},{"t":1990,"k":"cD","v":0.02},{"t":1991,"k":"cD","v":0.0},{"t":1992,"k":"cD","v":-0.26},{"t":1993,"k":"cD","v":-0.20},{"t":1994,"k":"cD","v":-0.24},{"t":1995,"k":"cD","v":-0.18},{"t":1996,"k":"cD","v":0.29},{"t":1997,"k":"cD","v":0.35},{"t":1998,"k":"cD","v":0.51},{"t":1999,"k":"cD","v":0.14},{"t":2000,"k":"cD","v":0.80},{"t":2001,"k":"cD","v":0.98},{"t":2002,"k":"cD","v":0.80},{"t":2003,"k":"cD","v":1.06},{"t":2004,"k":"cD","v":0.85},{"t":2005,"k":"cD","v":0.85},{"t":2006,"k":"cD","v":1.06},{"t":2007,"k":"cD","v":0.91},{"t":2008,"k":"cD","v":0.85},{"t":2009,"k":"cD","v":0.94},{"t":2010,"k":"cD","v":1.20},{"t":2011,"k":"cD","v":1.06},
{"t":1974,"k":"hD","v":-0.39},{"t":1975,"k":"hD","v":-0.39},{"t":1976,"k":"hD","v":-0.14},{"t":1977,"k":"hD","v":-0.32},{"t":1978,"k":"hD","v":-0.33},{"t":1979,"k":"hD","v":0.14},{"t":1980,"k":"hD","v":-0.06},{"t":1981,"k":"hD","v":-0.06},{"t":1982,"k":"hD","v":-0.38},{"t":1983,"k":"hD","v":-0.12},{"t":1984,"k":"hD","v":0.06},{"t":1985,"k":"hD","v":-0.04},{"t":1986,"k":"hD","v":-0.61},{"t":1987,"k":"hD","v":-0.35},{"t":1988,"k":"hD","v":-0.32},{"t":1989,"k":"hD","v":-0.47},{"t":1990,"k":"hD","v":-0.59},{"t":1991,"k":"hD","v":-0.53},{"t":1992,"k":"hD","v":-0.26},{"t":1993,"k":"hD","v":-0.29},{"t":1994,"k":"hD","v":-0.59},{"t":1995,"k":"hD","v":-0.41},{"t":1996,"k":"hD","v":-0.41},{"t":1997,"k":"hD","v":-0.38},{"t":1998,"k":"hD","v":0.06},{"t":1999,"k":"hD","v":0.14},{"t":2000,"k":"hD","v":-0.06},{"t":2001,"k":"hD","v":0.33},{"t":2002,"k":"hD","v":0.49},{"t":2003,"k":"hD","v":0.33},{"t":2004,"k":"hD","v":0.47},{"t":2005,"k":"hD","v":0.32},{"t":2006,"k":"hD","v":0.71},{"t":2007,"k":"hD","v":0.21},{"t":2008,"k":"hD","v":0.15},{"t":2009,"k":"hD","v":0.21},{"t":2010,"k":"hD","v":0.51},{"t":2011,"k":"hD","v":0.73}
],
"fBR":[
{"t":1974,"k":"oD","v":-0.26},{"t":1975,"k":"oD","v":1.4},{"t":1976,"k":"oD","v":0.26},{"t":1977,"k":"oD","v":0.0},{"t":1978,"k":"oD","v":0.95},{"t":1979,"k":"oD","v":1.06},{"t":1980,"k":"oD","v":0.16},{"t":1981,"k":"oD","v":0.9},{"t":1982,"k":"oD","v":1.6},{"t":1983,"k":"oD","v":0.53},{"t":1984,"k":"oD","v":0.53},{"t":1985,"k":"oD","v":2.1},{"t":1986,"k":"oD","v":0.8},{"t":1987,"k":"oD","v":0.53},{"t":1988,"k":"oD","v":0.37},{"t":1989,"k":"oD","v":1.4},{"t":1990,"k":"oD","v":0.16},{"t":1991,"k":"oD","v":0.63},{"t":1992,"k":"oD","v":1.16},{"t":1993,"k":"oD","v":0.37},{"t":1994,"k":"oD","v":0.16},{"t":1995,"k":"oD","v":0.26},{"t":1996,"k":"oD","v":0.26},{"t":1997,"k":"oD","v":-0.63},{"t":1998,"k":"oD","v":-0.63},{"t":1999,"k":"oD","v":0.26},{"t":2000,"k":"oD","v":-0.26},{"t":2001,"k":"oD","v":0.63},{"t":2002,"k":"oD","v":0.37},{"t":2003,"k":"oD","v":0.16},{"t":2004,"k":"oD","v":0.26},{"t":2005,"k":"oD","v":0.1},{"t":2006,"k":"oD","v":-0.42},{"t":2007,"k":"oD","v":0.53},{"t":2008,"k":"oD","v":0.63},{"t":2009,"k":"oD","v":0.63},{"t":2010,"k":"oD","v":0.53},{"t":2011,"k":"oD","v":0.37},
{"t":1974,"k":"lD","v":5.4},{"t":1975,"k":"lD","v":4.3},{"t":1976,"k":"lD","v":5.7},{"t":1977,"k":"lD","v":4.1},{"t":1978,"k":"lD","v":1.75},{"t":1979,"k":"lD","v":2.1},{"t":1980,"k":"lD","v":2.6},{"t":1981,"k":"lD","v":0.16},{"t":1982,"k":"lD","v":1.06},{"t":1983,"k":"lD","v":0.26},{"t":1984,"k":"lD","v":1.5},{"t":1985,"k":"lD","v":1.2},{"t":1986,"k":"lD","v":0.0},{"t":1987,"k":"lD","v":1.06},{"t":1988,"k":"lD","v":1.3},{"t":1989,"k":"lD","v":1.06},{"t":1990,"k":"lD","v":0.4},{"t":1991,"k":"lD","v":0.16},{"t":1992,"k":"lD","v":-0.16},{"t":1993,"k":"lD","v":0.8},{"t":1994,"k":"lD","v":-0.37},{"t":1995,"k":"lD","v":0.63},{"t":1996,"k":"lD","v":0.63},{"t":1997,"k":"lD","v":0.53},{"t":1998,"k":"lD","v":1.3},{"t":1999,"k":"lD","v":2.0},{"t":2000,"k":"lD","v":0.53},{"t":2001,"k":"lD","v":0.26},{"t":2002,"k":"lD","v":0.26},{"t":2003,"k":"lD","v":0.16},{"t":2004,"k":"lD","v":0.42},{"t":2005,"k":"lD","v":0.16},{"t":2006,"k":"lD","v":-0.63},{"t":2007,"k":"lD","v":-0.69},{"t":2008,"k":"lD","v":0.0},{"t":2009,"k":"lD","v":0.42},{"t":2010,"k":"lD","v":-0.16},{"t":2011,"k":"lD","v":-0.42},
{"t":1974,"k":"bD","v":0.42},{"t":1975,"k":"bD","v":-3.33},{"t":1976,"k":"bD","v":2.22},{"t":1977,"k":"bD","v":-8.0},{"t":1978,"k":"bD","v":-8.3},{"t":1979,"k":"bD","v":2.1},{"t":1980,"k":"bD","v":3.6},{"t":1981,"k":"bD","v":3.8},{"t":1982,"k":"bD","v":0.5},{"t":1983,"k":"bD","v":3.3},{"t":1984,"k":"bD","v":-0.4},{"t":1985,"k":"bD","v":2.5},{"t":1986,"k":"bD","v":7.0},{"t":1987,"k":"bD","v":2.9},{"t":1988,"k":"bD","v":4.9},{"t":1989,"k":"bD","v":2.8},{"t":1990,"k":"bD","v":4.7},{"t":1991,"k":"bD","v":4.4},{"t":1992,"k":"bD","v":7.1},{"t":1993,"k":"bD","v":2.5},{"t":1994,"k":"bD","v":3.8},{"t":1995,"k":"bD","v":6.9},{"t":1996,"k":"bD","v":5.7},{"t":1997,"k":"bD","v":3.3},{"t":1998,"k":"bD","v":5.7},{"t":1999,"k":"bD","v":2.3},{"t":2000,"k":"bD","v":3.9},{"t":2001,"k":"bD","v":5.7},{"t":2002,"k":"bD","v":2.0},{"t":2003,"k":"bD","v":4.5},{"t":2004,"k":"bD","v":2.6},{"t":2005,"k":"bD","v":2.6},{"t":2006,"k":"bD","v":4.1},{"t":2007,"k":"bD","v":3.1},{"t":2008,"k":"bD","v":2.5},{"t":2009,"k":"bD","v":1.6},{"t":2010,"k":"bD","v":1.6},{"t":2011,"k":"bD","v":3.1}
],
"lab":[
{"p":"mTL","t":1974.2,"v":85.3,"k":"cT","txt":"Cerebrovascular diseases"},
{"p":"mTL","t":1980.0,"v":77.6,"k":"hT","txt":"Heart diseases"},
{"p":"mTR","t":1974.1,"v":82.5,"k":"pT","txt":"Prostate cancer"},
{"p":"mTR","t":1974.1,"v":73.9,"k":"oT","txt":"Colorectal cancer"},
{"p":"mTR","t":1974.1,"v":68.1,"k":"lT","txt":"Lung cancer"},
{"p":"mBL","t":1983.1,"v":1.0,"k":"cD","txt":"Cerebrovascular diseases"},
{"p":"mBL","t":1983.1,"v":-1.5,"k":"hD","txt":"Heart diseases"},
{"p":"mBR","t":2001.0,"v":2.05,"k":"lD","txt":"Lung cancer"},
{"p":"mBR","t":1980.1,"v":-1.2,"k":"pD","txt":"Prostate cancer"},
{"p":"mBR","t":1993.1,"v":-2.0,"k":"oD","txt":"Colorectal cancer"},
{"p":"fTL","t":1999.1,"v":91.9,"k":"hT","txt":"Heart diseases"},
{"p":"fTL","t":1991.1,"v":86.4,"k":"cT","txt":"Cerebrovascular diseases"},
{"p":"fTR","t":1973.9,"v":85.7,"k":"oF","txt":"Colorectal cancer"},
{"p":"fTR","t":1973.9,"v":75.8,"k":"bD","txt":"Breast cancer"},
{"p":"fTR","t":2001.0,"v":73.6,"k":"lD","txt":"Lung cancer"},
{"p":"fBL","t":1979.0,"v":0.8,"k":"cD","txt":"Cerebrovascular diseases"},
{"p":"fBL","t":1983.2,"v":-0.98,"k":"hD","txt":"Heart diseases"},
{"p":"fBR","t":1973.8,"v":6.9,"k":"lD","txt":"Lung cancer"},
{"p":"fBR","t":2002.1,"v":6.5,"k":"bD","txt":"Breast cancer"},
{"p":"fBR","t":1993.0,"v":-2.1,"k":"oD","txt":"Colorectal cancer"}
],
"hdr":[
{"p":"m","w":"b","t":1966.9,"v":97.65,"txt":"a"},
{"p":"m","w":"n","t":1969.0,"v":97.65,"txt":"Males"},
{"p":"f","w":"b","t":1966.9,"v":98.3,"txt":"b"},
{"p":"f","w":"n","t":1969.0,"v":98.3,"txt":"Females"}
]
},
"spacing":30,
"vconcat":[
 {"columns":2,"align":"each","spacing":{"row":9,"column":24},
 "concat":[
  {"width":300,"height":264,"layer":[
   {"data":{"name":"mTL"},"mark":{"type":"line","strokeWidth":1.8},"encoding":{
     "x":{"field":"t","type":"quantitative","title":null,"scale":{"domain":[1972.5,2012.5],"nice":false,"zero":false},"axis":{"values":[1980,1990,2000,2010],"labels":false,"ticks":false,"domainColor":"#cfcfcf"}},
     "y":{"field":"v","type":"quantitative","title":"M\u0302\u2096","scale":{"domain":[60,95],"nice":false,"zero":false},"axis":{"values":[60,65,70,75,80,85,90,95],"tickCount":20,"format":"d"}},
     "color":{"field":"k","type":"nominal","legend":null,"scale":{"domain":["cC","cU","hC","hU","pC","pU","oC","oU","lC","lU","bC","bU","cD","hD","pD","oD","lD","bD","cT","hT","pT","oT","lT","oF"],"range":["#d4690f","#fcc089","#4d2a80","#b59be0","#173f5f","#7fbde9","#b0861a","#e8c25e","#1f7a24","#8de08a","#b3103d","#f490b3","#fd8b1c","#7b4fc0","#2574b5","#d8a72a","#3db53d","#e8456e","#fba55a","#a77fdb","#2a7bbb","#e3b64a","#3cae3c","#cfa32c"]}}}},
   {"data":{"name":"mTL"},"mark":{"type":"point","filled":true,"size":28,"opacity":1},"encoding":{
     "x":{"field":"t","type":"quantitative","title":null,"scale":{"domain":[1972.5,2012.5],"nice":false,"zero":false}},
     "y":{"field":"v","type":"quantitative","title":"M\u0302\u2096","scale":{"domain":[60,95],"nice":false,"zero":false}},
     "color":{"field":"k","type":"nominal","legend":null,"scale":{"domain":["cC","cU","hC","hU","pC","pU","oC","oU","lC","lU","bC","bU","cD","hD","pD","oD","lD","bD","cT","hT","pT","oT","lT","oF"],"range":["#d4690f","#fcc089","#4d2a80","#b59be0","#173f5f","#7fbde9","#b0861a","#e8c25e","#1f7a24","#8de08a","#b3103d","#f490b3","#fd8b1c","#7b4fc0","#2574b5","#d8a72a","#3db53d","#e8456e","#fba55a","#a77fdb","#2a7bbb","#e3b64a","#3cae3c","#cfa32c"]}},
     "shape":{"field":"k","type":"nominal","legend":null,"scale":{"domain":["cC","cU","cD","hC","hU","hD","pC","pU","pD","bC","bU","bD","oC","oU","oD","lC","lU","lD"],"range":["diamond","diamond","diamond","triangle-up","triangle-up","triangle-up","M-1,-0.7L-0.7,-1L0,-0.3L0.7,-1L1,-0.7L0.3,0L1,0.7L0.7,1L0,0.3L-0.7,1L-1,0.7L-0.3,0Z","M-1,-0.7L-0.7,-1L0,-0.3L0.7,-1L1,-0.7L0.3,0L1,0.7L0.7,1L0,0.3L-0.7,1L-1,0.7L-0.3,0Z","M-1,-0.7L-0.7,-1L0,-0.3L0.7,-1L1,-0.7L0.3,0L1,0.7L0.7,1L0,0.3L-0.7,1L-1,0.7L-0.3,0Z","M-1,-0.7L-0.7,-1L0,-0.3L0.7,-1L1,-0.7L0.3,0L1,0.7L0.7,1L0,0.3L-0.7,1L-1,0.7L-0.3,0Z","M-1,-0.7L-0.7,-1L0,-0.3L0.7,-1L1,-0.7L0.3,0L1,0.7L0.7,1L0,0.3L-0.7,1L-1,0.7L-0.3,0Z","M-1,-0.7L-0.7,-1L0,-0.3L0.7,-1L1,-0.7L0.3,0L1,0.7L0.7,1L0,0.3L-0.7,1L-1,0.7L-0.3,0Z","square","square","square","circle","circle","circle"]}}}},
   {"data":{"name":"lab"},"transform":[{"filter":"datum.p=='mTL'"}],"mark":{"type":"text","align":"left","baseline":"middle","fontSize":12},"encoding":{
     "x":{"field":"t","type":"quantitative","title":null,"scale":{"domain":[1972.5,2012.5],"nice":false,"zero":false}},
     "y":{"field":"v","type":"quantitative","title":"M\u0302\u2096","scale":{"domain":[60,95],"nice":false,"zero":false}},
     "text":{"field":"txt"},
     "color":{"field":"k","type":"nominal","legend":null,"scale":{"domain":["cC","cU","hC","hU","pC","pU","oC","oU","lC","lU","bC","bU","cD","hD","pD","oD","lD","bD","cT","hT","pT","oT","lT","oF"],"range":["#d4690f","#fcc089","#4d2a80","#b59be0","#173f5f","#7fbde9","#b0861a","#e8c25e","#1f7a24","#8de08a","#b3103d","#f490b3","#fd8b1c","#7b4fc0","#2574b5","#d8a72a","#3db53d","#e8456e","#fba55a","#a77fdb","#2a7bbb","#e3b64a","#3cae3c","#cfa32c"]}}}},
   {"data":{"name":"hdr"},"transform":[{"filter":"datum.p=='m' && datum.w=='b'"}],"mark":{"type":"text","align":"left","baseline":"middle","fontSize":17,"fontWeight":"bold","color":"#000"},"encoding":{
     "x":{"field":"t","type":"quantitative","title":null,"scale":{"domain":[1972.5,2012.5],"nice":false,"zero":false}},
     "y":{"field":"v","type":"quantitative","title":"M\u0302\u2096","scale":{"domain":[60,95],"nice":false,"zero":false}},
     "text":{"field":"txt"}}},
   {"data":{"name":"hdr"},"transform":[{"filter":"datum.p=='m' && datum.w=='n'"}],"mark":{"type":"text","align":"left","baseline":"middle","fontSize":17,"color":"#000"},"encoding":{
     "x":{"field":"t","type":"quantitative","title":null,"scale":{"domain":[1972.5,2012.5],"nice":false,"zero":false}},
     "y":{"field":"v","type":"quantitative","title":"M\u0302\u2096","scale":{"domain":[60,95],"nice":false,"zero":false}},
     "text":{"field":"txt"}}}
  ]},
  {"width":300,"height":264,"layer":[
   {"data":{"name":"mTR"},"mark":{"type":"line","strokeWidth":1.8},"encoding":{
     "x":{"field":"t","type":"quantitative","title":null,"scale":{"domain":[1972.5,2012.5],"nice":false,"zero":false},"axis":{"values":[1980,1990,2000,2010],"labels":false,"ticks":false,"domainColor":"#cfcfcf"}},
     "y":{"field":"v","type":"quantitative","title":null,"scale":{"domain":[60,95],"nice":false,"zero":false},"axis":{"values":[60,65,70,75,80,85,90,95],"tickCount":20,"format":"d"}},
     "color":{"field":"k","type":"nominal","legend":null,"scale":{"domain":["cC","cU","hC","hU","pC","pU","oC","oU","lC","lU","bC","bU","cD","hD","pD","oD","lD","bD","cT","hT","pT","oT","lT","oF"],"range":["#d4690f","#fcc089","#4d2a80","#b59be0","#173f5f","#7fbde9","#b0861a","#e8c25e","#1f7a24","#8de08a","#b3103d","#f490b3","#fd8b1c","#7b4fc0","#2574b5","#d8a72a","#3db53d","#e8456e","#fba55a","#a77fdb","#2a7bbb","#e3b64a","#3cae3c","#cfa32c"]}}}},
   {"data":{"name":"mTR"},"mark":{"type":"point","filled":true,"size":28,"opacity":1},"encoding":{
     "x":{"field":"t","type":"quantitative","title":null,"scale":{"domain":[1972.5,2012.5],"nice":false,"zero":false}},
     "y":{"field":"v","type":"quantitative","title":null,"scale":{"domain":[60,95],"nice":false,"zero":false}},
     "color":{"field":"k","type":"nominal","legend":null,"scale":{"domain":["cC","cU","hC","hU","pC","pU","oC","oU","lC","lU","bC","bU","cD","hD","pD","oD","lD","bD","cT","hT","pT","oT","lT","oF"],"range":["#d4690f","#fcc089","#4d2a80","#b59be0","#173f5f","#7fbde9","#b0861a","#e8c25e","#1f7a24","#8de08a","#b3103d","#f490b3","#fd8b1c","#7b4fc0","#2574b5","#d8a72a","#3db53d","#e8456e","#fba55a","#a77fdb","#2a7bbb","#e3b64a","#3cae3c","#cfa32c"]}},
     "shape":{"field":"k","type":"nominal","legend":null,"scale":{"domain":["cC","cU","cD","hC","hU","hD","pC","pU","pD","bC","bU","bD","oC","oU","oD","lC","lU","lD"],"range":["diamond","diamond","diamond","triangle-up","triangle-up","triangle-up","M-1,-0.7L-0.7,-1L0,-0.3L0.7,-1L1,-0.7L0.3,0L1,0.7L0.7,1L0,0.3L-0.7,1L-1,0.7L-0.3,0Z","M-1,-0.7L-0.7,-1L0,-0.3L0.7,-1L1,-0.7L0.3,0L1,0.7L0.7,1L0,0.3L-0.7,1L-1,0.7L-0.3,0Z","M-1,-0.7L-0.7,-1L0,-0.3L0.7,-1L1,-0.7L0.3,0L1,0.7L0.7,1L0,0.3L-0.7,1L-1,0.7L-0.3,0Z","M-1,-0.7L-0.7,-1L0,-0.3L0.7,-1L1,-0.7L0.3,0L1,0.7L0.7,1L0,0.3L-0.7,1L-1,0.7L-0.3,0Z","M-1,-0.7L-0.7,-1L0,-0.3L0.7,-1L1,-0.7L0.3,0L1,0.7L0.7,1L0,0.3L-0.7,1L-1,0.7L-0.3,0Z","M-1,-0.7L-0.7,-1L0,-0.3L0.7,-1L1,-0.7L0.3,0L1,0.7L0.7,1L0,0.3L-0.7,1L-1,0.7L-0.3,0Z","square","square","square","circle","circle","circle"]}}}},
   {"data":{"name":"lab"},"transform":[{"filter":"datum.p=='mTR'"}],"mark":{"type":"text","align":"left","baseline":"middle","fontSize":12},"encoding":{
     "x":{"field":"t","type":"quantitative","title":null,"scale":{"domain":[1972.5,2012.5],"nice":false,"zero":false}},
     "y":{"field":"v","type":"quantitative","title":null,"scale":{"domain":[60,95],"nice":false,"zero":false}},
     "text":{"field":"txt"},
     "color":{"field":"k","type":"nominal","legend":null,"scale":{"domain":["cC","cU","hC","hU","pC","pU","oC","oU","lC","lU","bC","bU","cD","hD","pD","oD","lD","bD","cT","hT","pT","oT","lT","oF"],"range":["#d4690f","#fcc089","#4d2a80","#b59be0","#173f5f","#7fbde9","#b0861a","#e8c25e","#1f7a24","#8de08a","#b3103d","#f490b3","#fd8b1c","#7b4fc0","#2574b5","#d8a72a","#3db53d","#e8456e","#fba55a","#a77fdb","#2a7bbb","#e3b64a","#3cae3c","#cfa32c"]}}}}
  ]},
  {"width":300,"height":157,"layer":[
   {"data":{"values":[{"z":0}]},"mark":{"type":"rule","strokeDash":[5,3],"color":"#222","strokeWidth":1.1},"encoding":{
     "y":{"field":"z","type":"quantitative","title":"M\u0302\u2096\u1D9C\u1D2C\u1D3A\u2212 M\u0302\u2096\u1D41\u00B7\u02E2\u00B7","scale":{"domain":[-3,3],"nice":false,"zero":false},"axis":{"values":[-3,-1,1,3],"tickCount":20,"format":"d"}}}},
   {"data":{"name":"mBL"},"mark":{"type":"line","strokeWidth":1.8},"encoding":{
     "x":{"field":"t","type":"quantitative","title":null,"scale":{"domain":[1972.5,2012.5],"nice":false,"zero":false},"axis":{"values":[1980,1990,2000,2010],"format":"d"}},
     "y":{"field":"v","type":"quantitative","title":"M\u0302\u2096\u1D9C\u1D2C\u1D3A\u2212 M\u0302\u2096\u1D41\u00B7\u02E2\u00B7","scale":{"domain":[-3,3],"nice":false,"zero":false}},
     "color":{"field":"k","type":"nominal","legend":null,"scale":{"domain":["cC","cU","hC","hU","pC","pU","oC","oU","lC","lU","bC","bU","cD","hD","pD","oD","lD","bD","cT","hT","pT","oT","lT","oF"],"range":["#d4690f","#fcc089","#4d2a80","#b59be0","#173f5f","#7fbde9","#b0861a","#e8c25e","#1f7a24","#8de08a","#b3103d","#f490b3","#fd8b1c","#7b4fc0","#2574b5","#d8a72a","#3db53d","#e8456e","#fba55a","#a77fdb","#2a7bbb","#e3b64a","#3cae3c","#cfa32c"]}}}},
   {"data":{"name":"mBL"},"mark":{"type":"point","filled":true,"size":28,"opacity":1},"encoding":{
     "x":{"field":"t","type":"quantitative","title":null,"scale":{"domain":[1972.5,2012.5],"nice":false,"zero":false}},
     "y":{"field":"v","type":"quantitative","title":"M\u0302\u2096\u1D9C\u1D2C\u1D3A\u2212 M\u0302\u2096\u1D41\u00B7\u02E2\u00B7","scale":{"domain":[-3,3],"nice":false,"zero":false}},
     "color":{"field":"k","type":"nominal","legend":null,"scale":{"domain":["cC","cU","hC","hU","pC","pU","oC","oU","lC","lU","bC","bU","cD","hD","pD","oD","lD","bD","cT","hT","pT","oT","lT","oF"],"range":["#d4690f","#fcc089","#4d2a80","#b59be0","#173f5f","#7fbde9","#b0861a","#e8c25e","#1f7a24","#8de08a","#b3103d","#f490b3","#fd8b1c","#7b4fc0","#2574b5","#d8a72a","#3db53d","#e8456e","#fba55a","#a77fdb","#2a7bbb","#e3b64a","#3cae3c","#cfa32c"]}},
     "shape":{"field":"k","type":"nominal","legend":null,"scale":{"domain":["cC","cU","cD","hC","hU","hD","pC","pU","pD","bC","bU","bD","oC","oU","oD","lC","lU","lD"],"range":["diamond","diamond","diamond","triangle-up","triangle-up","triangle-up","M-1,-0.7L-0.7,-1L0,-0.3L0.7,-1L1,-0.7L0.3,0L1,0.7L0.7,1L0,0.3L-0.7,1L-1,0.7L-0.3,0Z","M-1,-0.7L-0.7,-1L0,-0.3L0.7,-1L1,-0.7L0.3,0L1,0.7L0.7,1L0,0.3L-0.7,1L-1,0.7L-0.3,0Z","M-1,-0.7L-0.7,-1L0,-0.3L0.7,-1L1,-0.7L0.3,0L1,0.7L0.7,1L0,0.3L-0.7,1L-1,0.7L-0.3,0Z","M-1,-0.7L-0.7,-1L0,-0.3L0.7,-1L1,-0.7L0.3,0L1,0.7L0.7,1L0,0.3L-0.7,1L-1,0.7L-0.3,0Z","M-1,-0.7L-0.7,-1L0,-0.3L0.7,-1L1,-0.7L0.3,0L1,0.7L0.7,1L0,0.3L-0.7,1L-1,0.7L-0.3,0Z","M-1,-0.7L-0.7,-1L0,-0.3L0.7,-1L1,-0.7L0.3,0L1,0.7L0.7,1L0,0.3L-0.7,1L-1,0.7L-0.3,0Z","square","square","square","circle","circle","circle"]}}}},
   {"data":{"name":"lab"},"transform":[{"filter":"datum.p=='mBL'"}],"mark":{"type":"text","align":"left","baseline":"middle","fontSize":12},"encoding":{
     "x":{"field":"t","type":"quantitative","title":null,"scale":{"domain":[1972.5,2012.5],"nice":false,"zero":false}},
     "y":{"field":"v","type":"quantitative","title":"M\u0302\u2096\u1D9C\u1D2C\u1D3A\u2212 M\u0302\u2096\u1D41\u00B7\u02E2\u00B7","scale":{"domain":[-3,3],"nice":false,"zero":false}},
     "text":{"field":"txt"},
     "color":{"field":"k","type":"nominal","legend":null,"scale":{"domain":["cC","cU","hC","hU","pC","pU","oC","oU","lC","lU","bC","bU","cD","hD","pD","oD","lD","bD","cT","hT","pT","oT","lT","oF"],"range":["#d4690f","#fcc089","#4d2a80","#b59be0","#173f5f","#7fbde9","#b0861a","#e8c25e","#1f7a24","#8de08a","#b3103d","#f490b3","#fd8b1c","#7b4fc0","#2574b5","#d8a72a","#3db53d","#e8456e","#fba55a","#a77fdb","#2a7bbb","#e3b64a","#3cae3c","#cfa32c"]}}}}
  ]},
  {"width":300,"height":157,"layer":[
   {"data":{"values":[{"z":0}]},"mark":{"type":"rule","strokeDash":[5,3],"color":"#222","strokeWidth":1.1},"encoding":{
     "y":{"field":"z","type":"quantitative","title":null,"scale":{"domain":[-3,3],"nice":false,"zero":false},"axis":{"values":[-3,-1,1,3],"tickCount":20,"format":"d"}}}},
   {"data":{"name":"mBR"},"mark":{"type":"line","strokeWidth":1.8},"encoding":{
     "x":{"field":"t","type":"quantitative","title":null,"scale":{"domain":[1972.5,2012.5],"nice":false,"zero":false},"axis":{"values":[1980,1990,2000,2010],"format":"d"}},
     "y":{"field":"v","type":"quantitative","title":null,"scale":{"domain":[-3,3],"nice":false,"zero":false}},
     "color":{"field":"k","type":"nominal","legend":null,"scale":{"domain":["cC","cU","hC","hU","pC","pU","oC","oU","lC","lU","bC","bU","cD","hD","pD","oD","lD","bD","cT","hT","pT","oT","lT","oF"],"range":["#d4690f","#fcc089","#4d2a80","#b59be0","#173f5f","#7fbde9","#b0861a","#e8c25e","#1f7a24","#8de08a","#b3103d","#f490b3","#fd8b1c","#7b4fc0","#2574b5","#d8a72a","#3db53d","#e8456e","#fba55a","#a77fdb","#2a7bbb","#e3b64a","#3cae3c","#cfa32c"]}}}},
   {"data":{"name":"mBR"},"mark":{"type":"point","filled":true,"size":28,"opacity":1},"encoding":{
     "x":{"field":"t","type":"quantitative","title":null,"scale":{"domain":[1972.5,2012.5],"nice":false,"zero":false}},
     "y":{"field":"v","type":"quantitative","title":null,"scale":{"domain":[-3,3],"nice":false,"zero":false}},
     "color":{"field":"k","type":"nominal","legend":null,"scale":{"domain":["cC","cU","hC","hU","pC","pU","oC","oU","lC","lU","bC","bU","cD","hD","pD","oD","lD","bD","cT","hT","pT","oT","lT","oF"],"range":["#d4690f","#fcc089","#4d2a80","#b59be0","#173f5f","#7fbde9","#b0861a","#e8c25e","#1f7a24","#8de08a","#b3103d","#f490b3","#fd8b1c","#7b4fc0","#2574b5","#d8a72a","#3db53d","#e8456e","#fba55a","#a77fdb","#2a7bbb","#e3b64a","#3cae3c","#cfa32c"]}},
     "shape":{"field":"k","type":"nominal","legend":null,"scale":{"domain":["cC","cU","cD","hC","hU","hD","pC","pU","pD","bC","bU","bD","oC","oU","oD","lC","lU","lD"],"range":["diamond","diamond","diamond","triangle-up","triangle-up","triangle-up","M-1,-0.7L-0.7,-1L0,-0.3L0.7,-1L1,-0.7L0.3,0L1,0.7L0.7,1L0,0.3L-0.7,1L-1,0.7L-0.3,0Z","M-1,-0.7L-0.7,-1L0,-0.3L0.7,-1L1,-0.7L0.3,0L1,0.7L0.7,1L0,0.3L-0.7,1L-1,0.7L-0.3,0Z","M-1,-0.7L-0.7,-1L0,-0.3L0.7,-1L1,-0.7L0.3,0L1,0.7L0.7,1L0,0.3L-0.7,1L-1,0.7L-0.3,0Z","M-1,-0.7L-0.7,-1L0,-0.3L0.7,-1L1,-0.7L0.3,0L1,0.7L0.7,1L0,0.3L-0.7,1L-1,0.7L-0.3,0Z","M-1,-0.7L-0.7,-1L0,-0.3L0.7,-1L1,-0.7L0.3,0L1,0.7L0.7,1L0,0.3L-0.7,1L-1,0.7L-0.3,0Z","M-1,-0.7L-0.7,-1L0,-0.3L0.7,-1L1,-0.7L0.3,0L1,0.7L0.7,1L0,0.3L-0.7,1L-1,0.7L-0.3,0Z","square","square","square","circle","circle","circle"]}}}},
   {"data":{"name":"lab"},"transform":[{"filter":"datum.p=='mBR'"}],"mark":{"type":"text","align":"left","baseline":"middle","fontSize":12},"encoding":{
     "x":{"field":"t","type":"quantitative","title":null,"scale":{"domain":[1972.5,2012.5],"nice":false,"zero":false}},
     "y":{"field":"v","type":"quantitative","title":null,"scale":{"domain":[-3,3],"nice":false,"zero":false}},
     "text":{"field":"txt"},
     "color":{"field":"k","type":"nominal","legend":null,"scale":{"domain":["cC","cU","hC","hU","pC","pU","oC","oU","lC","lU","bC","bU","cD","hD","pD","oD","lD","bD","cT","hT","pT","oT","lT","oF"],"range":["#d4690f","#fcc089","#4d2a80","#b59be0","#173f5f","#7fbde9","#b0861a","#e8c25e","#1f7a24","#8de08a","#b3103d","#f490b3","#fd8b1c","#7b4fc0","#2574b5","#d8a72a","#3db53d","#e8456e","#fba55a","#a77fdb","#2a7bbb","#e3b64a","#3cae3c","#cfa32c"]}}}}
  ]}
 ]},
 {"columns":2,"align":"each","spacing":{"row":8,"column":24},
 "concat":[
  {"width":300,"height":248,"resolve":{"scale":{"x":"independent","y":"independent"}},"layer":[
   {"layer":[
    {"data":{"name":"fTL"},"mark":{"type":"line","strokeWidth":1.8},"encoding":{
      "x":{"field":"t","type":"quantitative","title":null,"scale":{"domain":[1972.5,2012.5],"nice":false,"zero":false},"axis":{"values":[1980,1990,2000,2010],"labels":false,"ticks":false,"domainColor":"#cfcfcf"}},
      "y":{"field":"v","type":"quantitative","title":"M\u0302\u2096","scale":{"domain":[60,95],"nice":false,"zero":false},"axis":{"values":[60,65,70,75,80,85,90,95],"tickCount":20,"format":"d"}},
      "color":{"field":"k","type":"nominal","legend":null,"scale":{"domain":["cC","cU","hC","hU","pC","pU","oC","oU","lC","lU","bC","bU","cD","hD","pD","oD","lD","bD","cT","hT","pT","oT","lT","oF"],"range":["#d4690f","#fcc089","#4d2a80","#b59be0","#173f5f","#7fbde9","#b0861a","#e8c25e","#1f7a24","#8de08a","#b3103d","#f490b3","#fd8b1c","#7b4fc0","#2574b5","#d8a72a","#3db53d","#e8456e","#fba55a","#a77fdb","#2a7bbb","#e3b64a","#3cae3c","#cfa32c"]}}}},
    {"data":{"name":"fTL"},"mark":{"type":"point","filled":true,"size":28,"opacity":1},"encoding":{
      "x":{"field":"t","type":"quantitative","title":null,"scale":{"domain":[1972.5,2012.5],"nice":false,"zero":false}},
      "y":{"field":"v","type":"quantitative","title":"M\u0302\u2096","scale":{"domain":[60,95],"nice":false,"zero":false}},
      "color":{"field":"k","type":"nominal","legend":null,"scale":{"domain":["cC","cU","hC","hU","pC","pU","oC","oU","lC","lU","bC","bU","cD","hD","pD","oD","lD","bD","cT","hT","pT","oT","lT","oF"],"range":["#d4690f","#fcc089","#4d2a80","#b59be0","#173f5f","#7fbde9","#b0861a","#e8c25e","#1f7a24","#8de08a","#b3103d","#f490b3","#fd8b1c","#7b4fc0","#2574b5","#d8a72a","#3db53d","#e8456e","#fba55a","#a77fdb","#2a7bbb","#e3b64a","#3cae3c","#cfa32c"]}},
      "shape":{"field":"k","type":"nominal","legend":null,"scale":{"domain":["cC","cU","cD","hC","hU","hD","pC","pU","pD","bC","bU","bD","oC","oU","oD","lC","lU","lD"],"range":["diamond","diamond","diamond","triangle-up","triangle-up","triangle-up","M-1,-0.7L-0.7,-1L0,-0.3L0.7,-1L1,-0.7L0.3,0L1,0.7L0.7,1L0,0.3L-0.7,1L-1,0.7L-0.3,0Z","M-1,-0.7L-0.7,-1L0,-0.3L0.7,-1L1,-0.7L0.3,0L1,0.7L0.7,1L0,0.3L-0.7,1L-1,0.7L-0.3,0Z","M-1,-0.7L-0.7,-1L0,-0.3L0.7,-1L1,-0.7L0.3,0L1,0.7L0.7,1L0,0.3L-0.7,1L-1,0.7L-0.3,0Z","M-1,-0.7L-0.7,-1L0,-0.3L0.7,-1L1,-0.7L0.3,0L1,0.7L0.7,1L0,0.3L-0.7,1L-1,0.7L-0.3,0Z","M-1,-0.7L-0.7,-1L0,-0.3L0.7,-1L1,-0.7L0.3,0L1,0.7L0.7,1L0,0.3L-0.7,1L-1,0.7L-0.3,0Z","M-1,-0.7L-0.7,-1L0,-0.3L0.7,-1L1,-0.7L0.3,0L1,0.7L0.7,1L0,0.3L-0.7,1L-1,0.7L-0.3,0Z","square","square","square","circle","circle","circle"]}}}},
    {"data":{"name":"lab"},"transform":[{"filter":"datum.p=='fTL'"}],"mark":{"type":"text","align":"left","baseline":"middle","fontSize":12},"encoding":{
      "x":{"field":"t","type":"quantitative","title":null,"scale":{"domain":[1972.5,2012.5],"nice":false,"zero":false}},
      "y":{"field":"v","type":"quantitative","title":"M\u0302\u2096","scale":{"domain":[60,95],"nice":false,"zero":false}},
      "text":{"field":"txt"},
      "color":{"field":"k","type":"nominal","legend":null,"scale":{"domain":["cC","cU","hC","hU","pC","pU","oC","oU","lC","lU","bC","bU","cD","hD","pD","oD","lD","bD","cT","hT","pT","oT","lT","oF"],"range":["#d4690f","#fcc089","#4d2a80","#b59be0","#173f5f","#7fbde9","#b0861a","#e8c25e","#1f7a24","#8de08a","#b3103d","#f490b3","#fd8b1c","#7b4fc0","#2574b5","#d8a72a","#3db53d","#e8456e","#fba55a","#a77fdb","#2a7bbb","#e3b64a","#3cae3c","#cfa32c"]}}}},
    {"data":{"name":"hdr"},"transform":[{"filter":"datum.p=='f' && datum.w=='b'"}],"mark":{"type":"text","align":"left","baseline":"middle","fontSize":17,"fontWeight":"bold","color":"#000"},"encoding":{
      "x":{"field":"t","type":"quantitative","title":null,"scale":{"domain":[1972.5,2012.5],"nice":false,"zero":false}},
      "y":{"field":"v","type":"quantitative","title":"M\u0302\u2096","scale":{"domain":[60,95],"nice":false,"zero":false}},
      "text":{"field":"txt"}}},
    {"data":{"name":"hdr"},"transform":[{"filter":"datum.p=='f' && datum.w=='n'"}],"mark":{"type":"text","align":"left","baseline":"middle","fontSize":17,"color":"#000"},"encoding":{
      "x":{"field":"t","type":"quantitative","title":null,"scale":{"domain":[1972.5,2012.5],"nice":false,"zero":false}},
      "y":{"field":"v","type":"quantitative","title":"M\u0302\u2096","scale":{"domain":[60,95],"nice":false,"zero":false}},
      "text":{"field":"txt"}}}
   ]},
   {"layer":[
    {"data":{"values":[{}]},"mark":{"type":"rect","fill":"white","stroke":"#555","strokeWidth":1},"encoding":{
      "x":{"datum":1969,"type":"quantitative","title":null,"scale":{"domain":[1969,2014],"range":[139,292],"nice":false,"zero":false},"axis":{"orient":"bottom","offset":-35,"values":[1980,1990,2000,2010],"tickCount":20,"format":"d","grid":false,"labelFontSize":8,"tickSize":3,"domain":false}},
      "x2":{"datum":2014},
      "y":{"datum":84,"type":"quantitative","title":null,"scale":{"domain":[84,92],"range":[213,125],"nice":false,"zero":false},"axis":{"orient":"left","offset":-139,"values":[84,86,88,90,92],"tickCount":20,"format":"d","grid":false,"labelFontSize":8,"tickSize":3,"domain":false}},
      "y2":{"datum":92}}},
    {"data":{"name":"fTL"},"mark":{"type":"line","strokeWidth":1.5},"encoding":{
      "x":{"field":"t","type":"quantitative","title":null,"scale":{"domain":[1969,2014],"range":[139,292],"nice":false,"zero":false}},
      "y":{"field":"v","type":"quantitative","title":null,"scale":{"domain":[84,92],"range":[213,125],"nice":false,"zero":false}},
      "color":{"field":"k","type":"nominal","legend":null,"scale":{"domain":["cC","cU","hC","hU","pC","pU","oC","oU","lC","lU","bC","bU","cD","hD","pD","oD","lD","bD","cT","hT","pT","oT","lT","oF"],"range":["#d4690f","#fcc089","#4d2a80","#b59be0","#173f5f","#7fbde9","#b0861a","#e8c25e","#1f7a24","#8de08a","#b3103d","#f490b3","#fd8b1c","#7b4fc0","#2574b5","#d8a72a","#3db53d","#e8456e","#fba55a","#a77fdb","#2a7bbb","#e3b64a","#3cae3c","#cfa32c"]}}}}
   ]}
  ]},
  {"width":300,"height":248,"layer":[
   {"data":{"name":"fTR"},"mark":{"type":"line","strokeWidth":1.8},"encoding":{
     "x":{"field":"t","type":"quantitative","title":null,"scale":{"domain":[1972.5,2012.5],"nice":false,"zero":false},"axis":{"values":[1980,1990,2000,2010],"labels":false,"ticks":false,"domainColor":"#cfcfcf"}},
     "y":{"field":"v","type":"quantitative","title":null,"scale":{"domain":[60,95],"nice":false,"zero":false},"axis":{"values":[60,65,70,75,80,85,90,95],"tickCount":20,"format":"d"}},
     "color":{"field":"k","type":"nominal","legend":null,"scale":{"domain":["cC","cU","hC","hU","pC","pU","oC","oU","lC","lU","bC","bU","cD","hD","pD","oD","lD","bD","cT","hT","pT","oT","lT","oF"],"range":["#d4690f","#fcc089","#4d2a80","#b59be0","#173f5f","#7fbde9","#b0861a","#e8c25e","#1f7a24","#8de08a","#b3103d","#f490b3","#fd8b1c","#7b4fc0","#2574b5","#d8a72a","#3db53d","#e8456e","#fba55a","#a77fdb","#2a7bbb","#e3b64a","#3cae3c","#cfa32c"]}}}},
   {"data":{"name":"fTR"},"mark":{"type":"point","filled":true,"size":28,"opacity":1},"encoding":{
     "x":{"field":"t","type":"quantitative","title":null,"scale":{"domain":[1972.5,2012.5],"nice":false,"zero":false}},
     "y":{"field":"v","type":"quantitative","title":null,"scale":{"domain":[60,95],"nice":false,"zero":false}},
     "color":{"field":"k","type":"nominal","legend":null,"scale":{"domain":["cC","cU","hC","hU","pC","pU","oC","oU","lC","lU","bC","bU","cD","hD","pD","oD","lD","bD","cT","hT","pT","oT","lT","oF"],"range":["#d4690f","#fcc089","#4d2a80","#b59be0","#173f5f","#7fbde9","#b0861a","#e8c25e","#1f7a24","#8de08a","#b3103d","#f490b3","#fd8b1c","#7b4fc0","#2574b5","#d8a72a","#3db53d","#e8456e","#fba55a","#a77fdb","#2a7bbb","#e3b64a","#3cae3c","#cfa32c"]}},
     "shape":{"field":"k","type":"nominal","legend":null,"scale":{"domain":["cC","cU","cD","hC","hU","hD","pC","pU","pD","bC","bU","bD","oC","oU","oD","lC","lU","lD"],"range":["diamond","diamond","diamond","triangle-up","triangle-up","triangle-up","M-1,-0.7L-0.7,-1L0,-0.3L0.7,-1L1,-0.7L0.3,0L1,0.7L0.7,1L0,0.3L-0.7,1L-1,0.7L-0.3,0Z","M-1,-0.7L-0.7,-1L0,-0.3L0.7,-1L1,-0.7L0.3,0L1,0.7L0.7,1L0,0.3L-0.7,1L-1,0.7L-0.3,0Z","M-1,-0.7L-0.7,-1L0,-0.3L0.7,-1L1,-0.7L0.3,0L1,0.7L0.7,1L0,0.3L-0.7,1L-1,0.7L-0.3,0Z","M-1,-0.7L-0.7,-1L0,-0.3L0.7,-1L1,-0.7L0.3,0L1,0.7L0.7,1L0,0.3L-0.7,1L-1,0.7L-0.3,0Z","M-1,-0.7L-0.7,-1L0,-0.3L0.7,-1L1,-0.7L0.3,0L1,0.7L0.7,1L0,0.3L-0.7,1L-1,0.7L-0.3,0Z","M-1,-0.7L-0.7,-1L0,-0.3L0.7,-1L1,-0.7L0.3,0L1,0.7L0.7,1L0,0.3L-0.7,1L-1,0.7L-0.3,0Z","square","square","square","circle","circle","circle"]}}}},
   {"data":{"name":"lab"},"transform":[{"filter":"datum.p=='fTR'"}],"mark":{"type":"text","align":"left","baseline":"middle","fontSize":12},"encoding":{
     "x":{"field":"t","type":"quantitative","title":null,"scale":{"domain":[1972.5,2012.5],"nice":false,"zero":false}},
     "y":{"field":"v","type":"quantitative","title":null,"scale":{"domain":[60,95],"nice":false,"zero":false}},
     "text":{"field":"txt"},
     "color":{"field":"k","type":"nominal","legend":null,"scale":{"domain":["cC","cU","hC","hU","pC","pU","oC","oU","lC","lU","bC","bU","cD","hD","pD","oD","lD","bD","cT","hT","pT","oT","lT","oF"],"range":["#d4690f","#fcc089","#4d2a80","#b59be0","#173f5f","#7fbde9","#b0861a","#e8c25e","#1f7a24","#8de08a","#b3103d","#f490b3","#fd8b1c","#7b4fc0","#2574b5","#d8a72a","#3db53d","#e8456e","#fba55a","#a77fdb","#2a7bbb","#e3b64a","#3cae3c","#cfa32c"]}}}}
  ]},
  {"width":300,"height":114,"layer":[
   {"data":{"values":[{"z":0}]},"mark":{"type":"rule","strokeDash":[5,3],"color":"#222","strokeWidth":1.1},"encoding":{
     "y":{"field":"z","type":"quantitative","title":"M\u0302\u2096\u1D9C\u1D2C\u1D3A\u2212 M\u0302\u2096\u1D41\u00B7\u02E2\u00B7","scale":{"domain":[-2,2],"nice":false,"zero":false},"axis":{"values":[-2,-1,1,2],"tickCount":20,"format":"d"}}}},
   {"data":{"name":"fBL"},"mark":{"type":"line","strokeWidth":1.8},"encoding":{
     "x":{"field":"t","type":"quantitative","title":null,"scale":{"domain":[1972.5,2012.5],"nice":false,"zero":false},"axis":{"values":[1980,1990,2000,2010],"format":"d"}},
     "y":{"field":"v","type":"quantitative","title":"M\u0302\u2096\u1D9C\u1D2C\u1D3A\u2212 M\u0302\u2096\u1D41\u00B7\u02E2\u00B7","scale":{"domain":[-2,2],"nice":false,"zero":false}},
     "color":{"field":"k","type":"nominal","legend":null,"scale":{"domain":["cC","cU","hC","hU","pC","pU","oC","oU","lC","lU","bC","bU","cD","hD","pD","oD","lD","bD","cT","hT","pT","oT","lT","oF"],"range":["#d4690f","#fcc089","#4d2a80","#b59be0","#173f5f","#7fbde9","#b0861a","#e8c25e","#1f7a24","#8de08a","#b3103d","#f490b3","#fd8b1c","#7b4fc0","#2574b5","#d8a72a","#3db53d","#e8456e","#fba55a","#a77fdb","#2a7bbb","#e3b64a","#3cae3c","#cfa32c"]}}}},
   {"data":{"name":"fBL"},"mark":{"type":"point","filled":true,"size":28,"opacity":1},"encoding":{
     "x":{"field":"t","type":"quantitative","title":null,"scale":{"domain":[1972.5,2012.5],"nice":false,"zero":false}},
     "y":{"field":"v","type":"quantitative","title":"M\u0302\u2096\u1D9C\u1D2C\u1D3A\u2212 M\u0302\u2096\u1D41\u00B7\u02E2\u00B7","scale":{"domain":[-2,2],"nice":false,"zero":false}},
     "color":{"field":"k","type":"nominal","legend":null,"scale":{"domain":["cC","cU","hC","hU","pC","pU","oC","oU","lC","lU","bC","bU","cD","hD","pD","oD","lD","bD","cT","hT","pT","oT","lT","oF"],"range":["#d4690f","#fcc089","#4d2a80","#b59be0","#173f5f","#7fbde9","#b0861a","#e8c25e","#1f7a24","#8de08a","#b3103d","#f490b3","#fd8b1c","#7b4fc0","#2574b5","#d8a72a","#3db53d","#e8456e","#fba55a","#a77fdb","#2a7bbb","#e3b64a","#3cae3c","#cfa32c"]}},
     "shape":{"field":"k","type":"nominal","legend":null,"scale":{"domain":["cC","cU","cD","hC","hU","hD","pC","pU","pD","bC","bU","bD","oC","oU","oD","lC","lU","lD"],"range":["diamond","diamond","diamond","triangle-up","triangle-up","triangle-up","M-1,-0.7L-0.7,-1L0,-0.3L0.7,-1L1,-0.7L0.3,0L1,0.7L0.7,1L0,0.3L-0.7,1L-1,0.7L-0.3,0Z","M-1,-0.7L-0.7,-1L0,-0.3L0.7,-1L1,-0.7L0.3,0L1,0.7L0.7,1L0,0.3L-0.7,1L-1,0.7L-0.3,0Z","M-1,-0.7L-0.7,-1L0,-0.3L0.7,-1L1,-0.7L0.3,0L1,0.7L0.7,1L0,0.3L-0.7,1L-1,0.7L-0.3,0Z","M-1,-0.7L-0.7,-1L0,-0.3L0.7,-1L1,-0.7L0.3,0L1,0.7L0.7,1L0,0.3L-0.7,1L-1,0.7L-0.3,0Z","M-1,-0.7L-0.7,-1L0,-0.3L0.7,-1L1,-0.7L0.3,0L1,0.7L0.7,1L0,0.3L-0.7,1L-1,0.7L-0.3,0Z","M-1,-0.7L-0.7,-1L0,-0.3L0.7,-1L1,-0.7L0.3,0L1,0.7L0.7,1L0,0.3L-0.7,1L-1,0.7L-0.3,0Z","square","square","square","circle","circle","circle"]}}}},
   {"data":{"name":"lab"},"transform":[{"filter":"datum.p=='fBL'"}],"mark":{"type":"text","align":"left","baseline":"middle","fontSize":12},"encoding":{
     "x":{"field":"t","type":"quantitative","title":null,"scale":{"domain":[1972.5,2012.5],"nice":false,"zero":false}},
     "y":{"field":"v","type":"quantitative","title":"M\u0302\u2096\u1D9C\u1D2C\u1D3A\u2212 M\u0302\u2096\u1D41\u00B7\u02E2\u00B7","scale":{"domain":[-2,2],"nice":false,"zero":false}},
     "text":{"field":"txt"},
     "color":{"field":"k","type":"nominal","legend":null,"scale":{"domain":["cC","cU","hC","hU","pC","pU","oC","oU","lC","lU","bC","bU","cD","hD","pD","oD","lD","bD","cT","hT","pT","oT","lT","oF"],"range":["#d4690f","#fcc089","#4d2a80","#b59be0","#173f5f","#7fbde9","#b0861a","#e8c25e","#1f7a24","#8de08a","#b3103d","#f490b3","#fd8b1c","#7b4fc0","#2574b5","#d8a72a","#3db53d","#e8456e","#fba55a","#a77fdb","#2a7bbb","#e3b64a","#3cae3c","#cfa32c"]}}}}
  ]},
  {"width":300,"height":114,"layer":[
   {"data":{"values":[{"z":0}]},"mark":{"type":"rule","strokeDash":[5,3],"color":"#222","strokeWidth":1.1},"encoding":{
     "y":{"field":"z","type":"quantitative","title":null,"scale":{"domain":[-9,9],"nice":false,"zero":false},"axis":{"values":[-9,-6,-3,3,6,9],"tickCount":20,"format":"d"}}}},
   {"data":{"name":"fBR"},"mark":{"type":"line","strokeWidth":1.8},"encoding":{
     "x":{"field":"t","type":"quantitative","title":null,"scale":{"domain":[1972.5,2012.5],"nice":false,"zero":false},"axis":{"values":[1980,1990,2000,2010],"format":"d"}},
     "y":{"field":"v","type":"quantitative","title":null,"scale":{"domain":[-9,9],"nice":false,"zero":false}},
     "color":{"field":"k","type":"nominal","legend":null,"scale":{"domain":["cC","cU","hC","hU","pC","pU","oC","oU","lC","lU","bC","bU","cD","hD","pD","oD","lD","bD","cT","hT","pT","oT","lT","oF"],"range":["#d4690f","#fcc089","#4d2a80","#b59be0","#173f5f","#7fbde9","#b0861a","#e8c25e","#1f7a24","#8de08a","#b3103d","#f490b3","#fd8b1c","#7b4fc0","#2574b5","#d8a72a","#3db53d","#e8456e","#fba55a","#a77fdb","#2a7bbb","#e3b64a","#3cae3c","#cfa32c"]}}}},
   {"data":{"name":"fBR"},"mark":{"type":"point","filled":true,"size":28,"opacity":1},"encoding":{
     "x":{"field":"t","type":"quantitative","title":null,"scale":{"domain":[1972.5,2012.5],"nice":false,"zero":false}},
     "y":{"field":"v","type":"quantitative","title":null,"scale":{"domain":[-9,9],"nice":false,"zero":false}},
     "color":{"field":"k","type":"nominal","legend":null,"scale":{"domain":["cC","cU","hC","hU","pC","pU","oC","oU","lC","lU","bC","bU","cD","hD","pD","oD","lD","bD","cT","hT","pT","oT","lT","oF"],"range":["#d4690f","#fcc089","#4d2a80","#b59be0","#173f5f","#7fbde9","#b0861a","#e8c25e","#1f7a24","#8de08a","#b3103d","#f490b3","#fd8b1c","#7b4fc0","#2574b5","#d8a72a","#3db53d","#e8456e","#fba55a","#a77fdb","#2a7bbb","#e3b64a","#3cae3c","#cfa32c"]}},
     "shape":{"field":"k","type":"nominal","legend":null,"scale":{"domain":["cC","cU","cD","hC","hU","hD","pC","pU","pD","bC","bU","bD","oC","oU","oD","lC","lU","lD"],"range":["diamond","diamond","diamond","triangle-up","triangle-up","triangle-up","M-1,-0.7L-0.7,-1L0,-0.3L0.7,-1L1,-0.7L0.3,0L1,0.7L0.7,1L0,0.3L-0.7,1L-1,0.7L-0.3,0Z","M-1,-0.7L-0.7,-1L0,-0.3L0.7,-1L1,-0.7L0.3,0L1,0.7L0.7,1L0,0.3L-0.7,1L-1,0.7L-0.3,0Z","M-1,-0.7L-0.7,-1L0,-0.3L0.7,-1L1,-0.7L0.3,0L1,0.7L0.7,1L0,0.3L-0.7,1L-1,0.7L-0.3,0Z","M-1,-0.7L-0.7,-1L0,-0.3L0.7,-1L1,-0.7L0.3,0L1,0.7L0.7,1L0,0.3L-0.7,1L-1,0.7L-0.3,0Z","M-1,-0.7L-0.7,-1L0,-0.3L0.7,-1L1,-0.7L0.3,0L1,0.7L0.7,1L0,0.3L-0.7,1L-1,0.7L-0.3,0Z","M-1,-0.7L-0.7,-1L0,-0.3L0.7,-1L1,-0.7L0.3,0L1,0.7L0.7,1L0,0.3L-0.7,1L-1,0.7L-0.3,0Z","square","square","square","circle","circle","circle"]}}}},
   {"data":{"name":"lab"},"transform":[{"filter":"datum.p=='fBR'"}],"mark":{"type":"text","align":"left","baseline":"middle","fontSize":12},"encoding":{
     "x":{"field":"t","type":"quantitative","title":null,"scale":{"domain":[1972.5,2012.5],"nice":false,"zero":false}},
     "y":{"field":"v","type":"quantitative","title":null,"scale":{"domain":[-9,9],"nice":false,"zero":false}},
     "text":{"field":"txt"},
     "color":{"field":"k","type":"nominal","legend":null,"scale":{"domain":["cC","cU","hC","hU","pC","pU","oC","oU","lC","lU","bC","bU","cD","hD","pD","oD","lD","bD","cT","hT","pT","oT","lT","oF"],"range":["#d4690f","#fcc089","#4d2a80","#b59be0","#173f5f","#7fbde9","#b0861a","#e8c25e","#1f7a24","#8de08a","#b3103d","#f490b3","#fd8b1c","#7b4fc0","#2574b5","#d8a72a","#3db53d","#e8456e","#fba55a","#a77fdb","#2a7bbb","#e3b64a","#3cae3c","#cfa32c"]}}}}
  ]}
 ]}
]
}
